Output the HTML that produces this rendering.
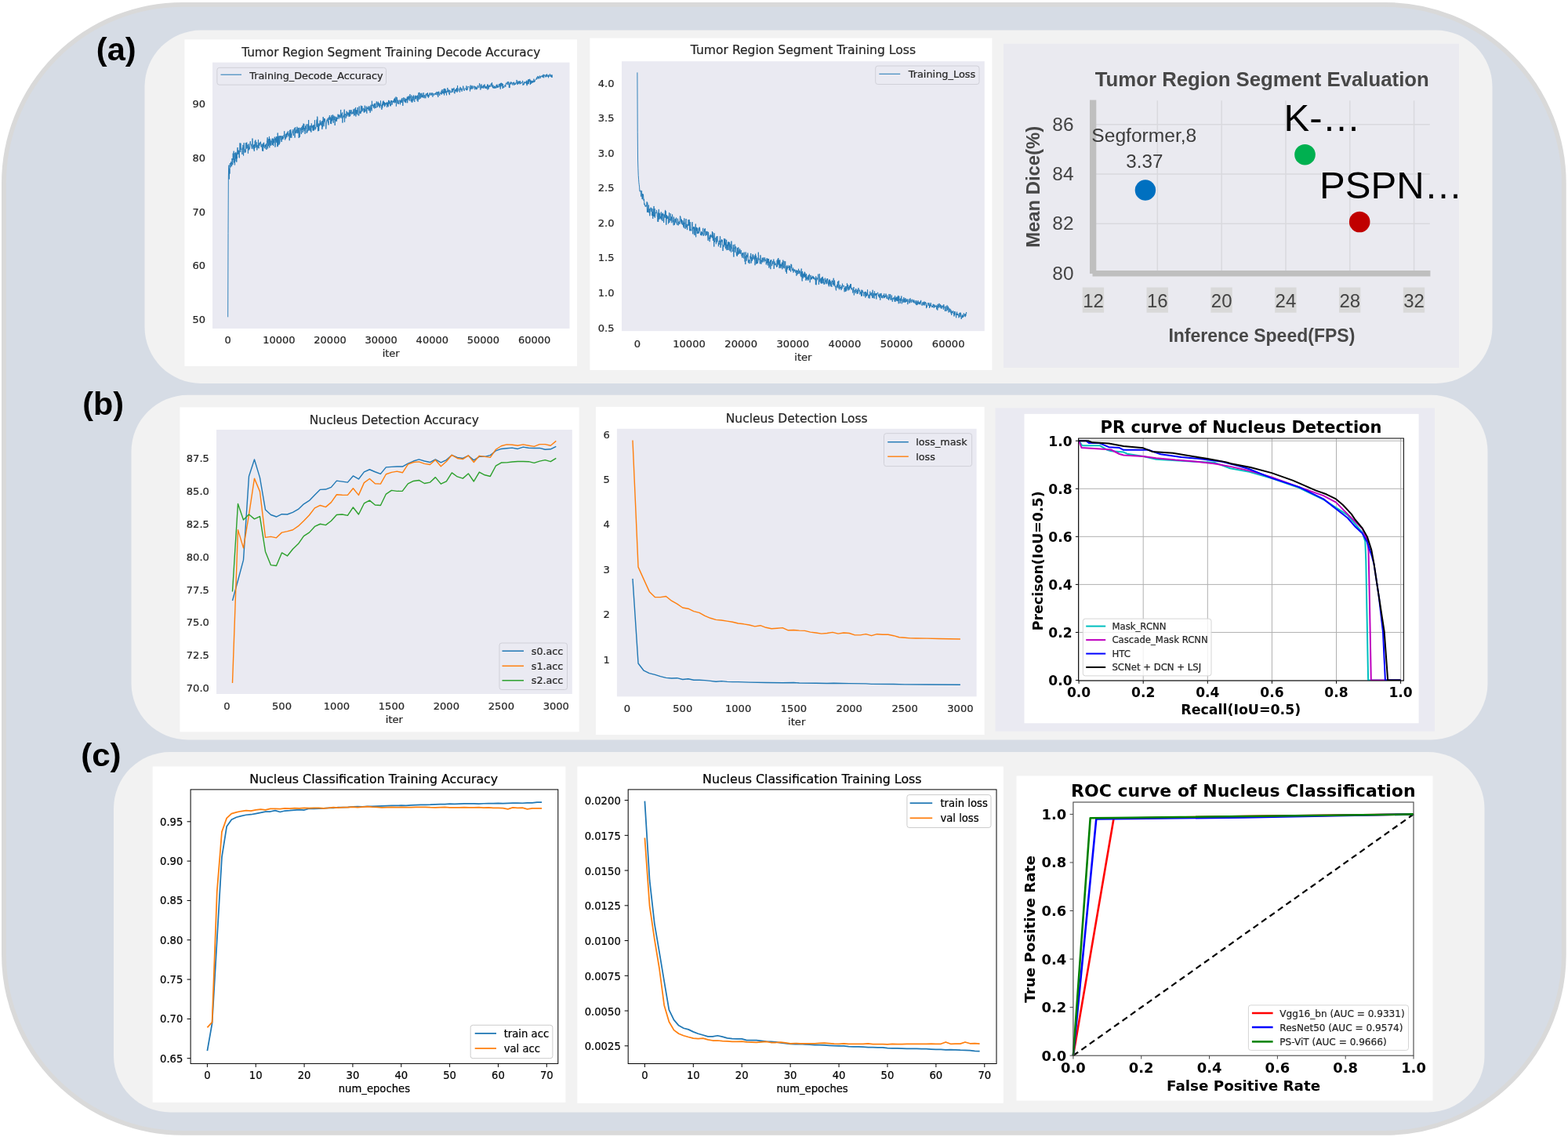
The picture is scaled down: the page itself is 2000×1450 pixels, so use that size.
<!DOCTYPE html>
<html><head><meta charset="utf-8"><title>Training and evaluation figure</title>
<style>html,body{margin:0;padding:0;background:#fff;}body{width:2000px;height:1450px;overflow:hidden;}svg{display:block;}</style>
</head><body>
<svg width="2000" height="1450" viewBox="0 0 2000 1450">
<rect x="0" y="0" width="2000" height="1450" fill="#ffffff" />
<rect x="4.9" y="5.8" width="1989.9" height="1439.1" fill="#d6dce5" rx="228" stroke="#d9d9d9" stroke-width="5.8" />
<rect x="184.5" y="38.5" width="1719" height="450.5" fill="#f2f2f2" rx="72" />
<rect x="167.5" y="503.8" width="1730" height="439.7" fill="#f2f2f2" rx="72" />
<rect x="145" y="959" width="1748.5" height="459.4" fill="#f2f2f2" rx="72" />
<text x="122.8" y="76.8" font-family="'Liberation Sans', Arial, sans-serif" font-size="40" fill="#000" font-weight="bold" textLength="50.9" lengthAdjust="spacingAndGlyphs" >(a)</text>
<text x="105.3" y="529" font-family="'Liberation Sans', Arial, sans-serif" font-size="40" fill="#000" font-weight="bold" textLength="52.8" lengthAdjust="spacingAndGlyphs" >(b)</text>
<text x="103.2" y="976.6" font-family="'Liberation Sans', Arial, sans-serif" font-size="40" fill="#000" font-weight="bold" textLength="51.4" lengthAdjust="spacingAndGlyphs" >(c)</text>
<rect x="235.5" y="50.3" width="500.5" height="416.7" fill="#ffffff" />
<rect x="271" y="79.6" width="455.5" height="339.4" fill="#eaeaf2" />
<text x="290.7" y="438" font-family="'DejaVu Sans', 'Liberation Sans', sans-serif" font-size="13" fill="#262626" stroke="#262626" stroke-width="0.22" text-anchor="middle" >0</text>
<text x="355.85" y="438" font-family="'DejaVu Sans', 'Liberation Sans', sans-serif" font-size="13" fill="#262626" stroke="#262626" stroke-width="0.22" text-anchor="middle" >10000</text>
<text x="421" y="438" font-family="'DejaVu Sans', 'Liberation Sans', sans-serif" font-size="13" fill="#262626" stroke="#262626" stroke-width="0.22" text-anchor="middle" >20000</text>
<text x="486.15" y="438" font-family="'DejaVu Sans', 'Liberation Sans', sans-serif" font-size="13" fill="#262626" stroke="#262626" stroke-width="0.22" text-anchor="middle" >30000</text>
<text x="551.3" y="438" font-family="'DejaVu Sans', 'Liberation Sans', sans-serif" font-size="13" fill="#262626" stroke="#262626" stroke-width="0.22" text-anchor="middle" >40000</text>
<text x="616.45" y="438" font-family="'DejaVu Sans', 'Liberation Sans', sans-serif" font-size="13" fill="#262626" stroke="#262626" stroke-width="0.22" text-anchor="middle" >50000</text>
<text x="681.6" y="438" font-family="'DejaVu Sans', 'Liberation Sans', sans-serif" font-size="13" fill="#262626" stroke="#262626" stroke-width="0.22" text-anchor="middle" >60000</text>
<text x="262" y="412.4" font-family="'DejaVu Sans', 'Liberation Sans', sans-serif" font-size="13" fill="#262626" stroke="#262626" stroke-width="0.22" text-anchor="end" >50</text>
<text x="262" y="343.45" font-family="'DejaVu Sans', 'Liberation Sans', sans-serif" font-size="13" fill="#262626" stroke="#262626" stroke-width="0.22" text-anchor="end" >60</text>
<text x="262" y="274.5" font-family="'DejaVu Sans', 'Liberation Sans', sans-serif" font-size="13" fill="#262626" stroke="#262626" stroke-width="0.22" text-anchor="end" >70</text>
<text x="262" y="205.55" font-family="'DejaVu Sans', 'Liberation Sans', sans-serif" font-size="13" fill="#262626" stroke="#262626" stroke-width="0.22" text-anchor="end" >80</text>
<text x="262" y="136.6" font-family="'DejaVu Sans', 'Liberation Sans', sans-serif" font-size="13" fill="#262626" stroke="#262626" stroke-width="0.22" text-anchor="end" >90</text>
<text x="498.7" y="71.5" font-family="'DejaVu Sans', 'Liberation Sans', sans-serif" font-size="15.3" fill="#262626" stroke="#262626" stroke-width="0.22" text-anchor="middle" >Tumor Region Segment Training Decode Accuracy</text>
<text x="498.7" y="455" font-family="'DejaVu Sans', 'Liberation Sans', sans-serif" font-size="13" fill="#262626" stroke="#262626" stroke-width="0.22" text-anchor="middle" >iter</text>
<polyline points="290.7,404.35 291.03,297.48 291.35,225.08 291.68,212.67 292,210.6 292.33,228.52 292.65,214.74 292.98,221.59 293.31,208.15 293.63,209.01 293.96,213.49 294.28,210.44 294.61,206.39 294.93,208.81 295.26,207.72 295.59,212.13 295.91,202.11 296.24,203.53 296.56,202.47 296.89,210.15 297.21,195.53 297.54,201.85 297.87,203.88 298.19,192.67 298.52,201.58 298.84,207.49 299.17,202.42 299.5,210.47 299.82,195.12 300.15,201.3 300.47,202.38 300.8,193.85 301.12,205.67 301.45,195.49 301.78,206.75 302.1,200.08 302.43,202.12 302.75,189.78 303.08,188.03 303.4,197.04 303.73,191.4 304.06,195.59 304.38,191.85 304.71,197.38 305.03,201.28 305.36,201.32 305.68,191.13 306.01,182.39 306.34,190.86 306.66,194.04 306.99,182.73 307.31,190.11 307.64,190.6 307.96,189.8 308.29,191.4 308.62,192.08 308.94,197 309.27,188.2 309.59,190.75 309.92,184.85 310.25,191.73 310.57,198.5 310.9,190.28 311.22,182.1 311.55,191.31 311.87,193.46 312.2,194.7 312.53,193.93 312.85,190.45 313.18,194.27 313.5,182.15 313.83,190.01 314.15,188.13 314.48,182.05 314.81,181.64 315.13,189.21 315.46,186.65 315.78,184.72 316.11,188.75 316.43,195.74 316.76,184.71 317.09,183.52 317.41,185.54 317.74,191.42 318.06,188.04 318.39,189.77 318.71,188.42 319.04,181.23 319.37,180.14 319.69,183.96 320.02,184.46 320.34,183.84 320.67,186.89 320.99,187.13 321.32,189.77 321.65,186.96 321.97,176.54 322.3,182.74 322.62,188.13 322.95,188.67 323.27,190.39 323.6,184.79 323.93,184.68 324.25,192.85 324.58,184.17 324.9,188.85 325.23,179.89 325.56,185.53 325.88,178.52 326.21,188.19 326.53,187.39 326.86,184.73 327.18,181.32 327.51,183.46 327.84,191.43 328.16,185.09 328.49,185.76 328.81,187.73 329.14,188.66 329.46,177.94 329.79,187.35 330.12,189.29 330.44,182.63 330.77,184.8 331.09,185.63 331.42,181.76 331.74,182.97 332.07,183.45 332.4,180.71 332.72,183.64 333.05,187.53 333.37,186.32 333.7,186.94 334.02,183.64 334.35,189.23 334.68,192.47 335,183.93 335.33,190.12 335.65,192.74 335.98,182.44 336.31,187.12 336.63,181.74 336.96,186.16 337.28,188.67 337.61,189.12 337.93,185.85 338.26,184.71 338.59,187.03 338.91,184.58 339.24,189.98 339.56,183.12 339.89,190.93 340.21,183.87 340.54,179.88 340.87,178.06 341.19,175.25 341.52,189.39 341.84,179.21 342.17,177.17 342.49,178.05 342.82,186.25 343.15,180.32 343.47,173.94 343.8,188.4 344.12,179.74 344.45,176.89 344.77,184.62 345.1,178.98 345.43,186.03 345.75,184.81 346.08,184.73 346.4,180.27 346.73,181.39 347.05,176.78 347.38,184.85 347.71,181.26 348.03,176.45 348.36,178.07 348.68,186.09 349.01,177.42 349.33,182.24 349.66,178.43 349.99,178.69 350.31,174.65 350.64,179.28 350.96,187.62 351.29,185.44 351.62,176.3 351.94,180.4 352.27,174.28 352.59,177.84 352.92,182.07 353.24,174.1 353.57,182.03 353.9,187.2 354.22,169.5 354.55,186.3 354.87,175.3 355.2,173.88 355.52,177.1 355.85,184.75 356.18,173.13 356.5,183.43 356.83,182.87 357.15,178.55 357.48,173.53 357.8,175.46 358.13,173.16 358.46,178.33 358.78,177.04 359.11,180.98 359.43,177.37 359.76,173.38 360.08,177.01 360.41,173.59 360.74,177.88 361.06,177.81 361.39,175.01 361.71,175.85 362.04,172.4 362.37,174 362.69,167.27 363.02,175.35 363.34,175.22 363.67,178.47 363.99,173.84 364.32,170.91 364.65,176.72 364.97,173.66 365.3,170.28 365.62,173.66 365.95,175.13 366.27,168.74 366.6,172.23 366.93,170.82 367.25,167.43 367.58,167.38 367.9,173.44 368.23,174.02 368.55,170.48 368.88,172.06 369.21,179.24 369.53,165.88 369.86,170.94 370.18,167.8 370.51,175.56 370.83,165.19 371.16,172.81 371.49,170.65 371.81,175.85 372.14,170.57 372.46,170.67 372.79,170.32 373.11,167.58 373.44,168.98 373.77,165.1 374.09,170.95 374.42,173.01 374.74,168.88 375.07,166.11 375.39,163.47 375.72,165.13 376.05,175.63 376.37,166.71 376.7,162.16 377.02,167.79 377.35,170.06 377.68,166.57 378,169.79 378.33,165 378.65,167.56 378.98,161.71 379.3,165.25 379.63,170.14 379.96,164.61 380.28,163.15 380.61,169.18 380.93,168.49 381.26,176.04 381.58,162.86 381.91,168.82 382.24,174.95 382.56,173.4 382.89,167.01 383.21,162.91 383.54,166.25 383.86,163.87 384.19,170.17 384.52,171.06 384.84,161.96 385.17,163.47 385.49,165.5 385.82,160.12 386.14,169.06 386.47,166.83 386.8,160.92 387.12,157.57 387.45,164.86 387.77,158.05 388.1,167.16 388.43,163.32 388.75,165.27 389.08,170.87 389.4,163.37 389.73,160.58 390.05,164.84 390.38,164.45 390.71,158.5 391.03,169 391.36,169.91 391.68,166.45 392.01,168.54 392.33,158.3 392.66,162.36 392.99,166.96 393.31,165.88 393.64,152.99 393.96,165.7 394.29,166.22 394.61,161.9 394.94,160.49 395.27,162 395.59,166.35 395.92,167.2 396.24,160.09 396.57,162.53 396.89,168.68 397.22,157.4 397.55,158.82 397.87,162.7 398.2,162.64 398.52,160.55 398.85,164.04 399.17,166.5 399.5,159.77 399.83,166.57 400.15,159.22 400.48,166.29 400.8,160.86 401.13,160.86 401.45,153.18 401.78,164.23 402.11,165.46 402.43,162.3 402.76,164.03 403.08,161.79 403.41,157.69 403.74,156.17 404.06,152.56 404.39,161.79 404.71,148.61 405.04,150.89 405.36,159.28 405.69,167.28 406.02,158.52 406.34,157.8 406.67,166.91 406.99,157.55 407.32,158.49 407.64,160.65 407.97,155.04 408.3,153.45 408.62,159.11 408.95,156.22 409.27,159.52 409.6,159.91 409.92,156.43 410.25,154.59 410.58,158.68 410.9,164.93 411.23,153.99 411.55,162.29 411.88,155.54 412.2,149.03 412.53,155.83 412.86,160.23 413.18,161.15 413.51,150.9 413.83,155.35 414.16,153.09 414.49,151.48 414.81,155.1 415.14,155.98 415.46,158.3 415.79,164.51 416.11,160.24 416.44,154.57 416.77,154.86 417.09,152.52 417.42,154.43 417.74,153.21 418.07,150.7 418.39,156.95 418.72,154.55 419.05,159.45 419.37,149.51 419.7,152.94 420.02,151.11 420.35,146.99 420.67,148.63 421,152.83 421.33,149.5 421.65,157.78 421.98,150.6 422.3,151.59 422.63,158.1 422.95,146.83 423.28,154.41 423.61,149.06 423.93,153.09 424.26,147.65 424.58,146.34 424.91,154.26 425.23,156.76 425.56,151.39 425.89,147.6 426.21,152.04 426.54,152.83 426.86,148.59 427.19,159.98 427.51,152.65 427.84,155.2 428.17,148.83 428.49,152.56 428.82,153.86 429.14,150.93 429.47,154.96 429.8,149.47 430.12,151.84 430.45,150.61 430.77,151.76 431.1,145.65 431.42,149.31 431.75,146.88 432.08,146.95 432.4,151.57 432.73,146.42 433.05,147.13 433.38,147.16 433.7,149.66 434.03,149.66 434.36,145.13 434.68,139.94 435.01,150.82 435.33,145.75 435.66,148.93 435.98,144.64 436.31,145.8 436.64,143.45 436.96,156.61 437.29,149.26 437.61,150.56 437.94,147.28 438.26,149.4 438.59,148.99 438.92,144.12 439.24,139.63 439.57,155.73 439.89,147.39 440.22,145.06 440.55,146.06 440.87,147.21 441.2,150.71 441.52,149.14 441.85,143.08 442.17,141.73 442.5,145.12 442.83,148.34 443.15,144.92 443.48,146.01 443.8,143.12 444.13,144.54 444.45,147.06 444.78,144.08 445.11,148.83 445.43,141.66 445.76,140.28 446.08,148.51 446.41,142.77 446.73,147.64 447.06,140.28 447.39,140.77 447.71,144.65 448.04,140.25 448.36,145.15 448.69,145.79 449.01,145.43 449.34,143.83 449.67,144.36 449.99,142.6 450.32,145.17 450.64,140.29 450.97,139.31 451.29,144.49 451.62,147.64 451.95,140.09 452.27,138.57 452.6,142.99 452.92,146.79 453.25,141.34 453.58,136.91 453.9,148.55 454.23,140.35 454.55,142.99 454.88,144.76 455.2,140.03 455.53,146.1 455.86,140.55 456.18,136.99 456.51,140.79 456.83,144.3 457.16,147.29 457.48,145.5 457.81,147.31 458.14,135.53 458.46,141.72 458.79,144.34 459.11,145.1 459.44,144.23 459.76,141.67 460.09,144.78 460.42,134.7 460.74,142.79 461.07,142.83 461.39,139.08 461.72,135.15 462.04,135.5 462.37,141.5 462.7,138.93 463.02,139.21 463.35,137.85 463.67,138.69 464,142.61 464.32,143.58 464.65,138.72 464.98,143.16 465.3,134.61 465.63,138.92 465.95,142.38 466.28,139.96 466.61,140.49 466.93,139.17 467.26,135.53 467.58,143.34 467.91,144.64 468.23,137.3 468.56,138.91 468.89,137.71 469.21,136.71 469.54,138.68 469.86,135.38 470.19,140.84 470.51,137.63 470.84,140.47 471.17,141.36 471.49,135.59 471.82,135.66 472.14,143.75 472.47,141 472.79,136.33 473.12,133.72 473.45,139.27 473.77,137.62 474.1,141.51 474.42,128.77 474.75,135.25 475.07,133.82 475.4,134.51 475.73,133.54 476.05,134.51 476.38,137.46 476.7,133.92 477.03,135.96 477.35,131.99 477.68,138.4 478.01,137.7 478.33,133.79 478.66,131.74 478.98,135.27 479.31,137.91 479.63,135.95 479.96,137.07 480.29,129.4 480.61,132.48 480.94,131.25 481.26,134.21 481.59,136.83 481.92,131.31 482.24,129.72 482.57,133.01 482.89,134.83 483.22,131.31 483.54,135.8 483.87,132.18 484.2,136.74 484.52,137.48 484.85,132.63 485.17,133.28 485.5,128.35 485.82,135.08 486.15,134.08 486.48,137.62 486.8,139.81 487.13,139.47 487.45,132.48 487.78,137.48 488.1,130.31 488.43,129.35 488.76,134.54 489.08,128.51 489.41,132.84 489.73,130.03 490.06,134.11 490.38,130.43 490.71,136.18 491.04,131.34 491.36,134.58 491.69,133.51 492.01,131.13 492.34,132.47 492.67,133.16 492.99,130.67 493.32,130.38 493.64,136.94 493.97,131 494.29,130.56 494.62,134.74 494.95,131.21 495.27,136.24 495.6,127.83 495.92,132.76 496.25,132.17 496.57,128.24 496.9,132.15 497.23,129.82 497.55,134.63 497.88,133.09 498.2,135.43 498.53,131.8 498.85,128.01 499.18,130.3 499.51,128.24 499.83,133.79 500.16,133.25 500.48,131.91 500.81,128.74 501.13,129.27 501.46,130.26 501.79,128.28 502.11,130.44 502.44,129.95 502.76,125.96 503.09,131.39 503.41,129.03 503.74,124.76 504.07,129.05 504.39,127.19 504.72,130.95 505.04,123.45 505.37,135.6 505.7,132.3 506.02,132.01 506.35,124.23 506.67,127.83 507,129.55 507.32,132.43 507.65,127.63 507.98,128.3 508.3,130.56 508.63,132.78 508.95,131.61 509.28,127.79 509.6,127.46 509.93,128.08 510.26,128.66 510.58,133.21 510.91,127.98 511.23,130.99 511.56,127.89 511.88,126.63 512.21,129.8 512.54,130.73 512.86,124.98 513.19,126.73 513.51,129.46 513.84,134.92 514.16,127.69 514.49,125.74 514.82,124.3 515.14,129.28 515.47,129.13 515.79,128.51 516.12,124.89 516.44,130.43 516.77,127.42 517.1,129.62 517.42,126.25 517.75,131.24 518.07,125.84 518.4,128.2 518.73,127.39 519.05,125.27 519.38,123.51 519.7,131.26 520.03,123.79 520.35,124.96 520.68,127.24 521.01,122.54 521.33,125.81 521.66,122.74 521.98,127.82 522.31,128.49 522.63,122.74 522.96,120.12 523.29,124.2 523.61,123.44 523.94,127.06 524.26,129.28 524.59,126.24 524.91,121.52 525.24,130.49 525.57,126.75 525.89,130.48 526.22,124.98 526.54,122.86 526.87,128.45 527.19,126.15 527.52,121.45 527.85,125.15 528.17,128.13 528.5,128.26 528.82,130.04 529.15,122.58 529.47,126.53 529.8,121.71 530.13,122.12 530.45,126.07 530.78,125.65 531.1,122.15 531.43,123.73 531.75,123.35 532.08,128.29 532.41,121.56 532.73,126.12 533.06,129.68 533.38,125.29 533.71,122.52 534.04,118.1 534.36,124.44 534.69,126.84 535.01,117.84 535.34,122.84 535.66,123.86 535.99,125.88 536.32,125.62 536.64,119.17 536.97,123.59 537.29,124.2 537.62,124.06 537.94,118.68 538.27,124.11 538.6,120.94 538.92,121.79 539.25,121.78 539.57,124.55 539.9,120.58 540.22,118.11 540.55,122.24 540.88,124.35 541.2,125.22 541.53,121.41 541.85,122.5 542.18,122.01 542.5,121.64 542.83,125.29 543.16,119.58 543.48,120.87 543.81,121.57 544.13,120.74 544.46,118.95 544.79,121.07 545.11,123.25 545.44,118.2 545.76,122.11 546.09,122.77 546.41,124.77 546.74,120.85 547.07,123.39 547.39,122.03 547.72,119.6 548.04,120.56 548.37,118.1 548.69,119.79 549.02,121.46 549.35,121.22 549.67,121.6 550,118.74 550.32,120.2 550.65,121.19 550.97,118.1 551.3,119.85 551.63,121.15 551.95,123.62 552.28,118.86 552.6,119.29 552.93,119.68 553.25,120.79 553.58,121.7 553.91,120.18 554.23,119.03 554.56,119.83 554.88,119.82 555.21,120.54 555.53,118.55 555.86,118.75 556.19,121.05 556.51,117.38 556.84,117.25 557.16,117.14 557.49,119.34 557.82,119.43 558.14,121.67 558.47,117.06 558.79,123.88 559.12,119.68 559.44,119.5 559.77,116.61 560.1,118.58 560.42,120.81 560.75,121.85 561.07,120.14 561.4,118.11 561.72,118.17 562.05,118.71 562.38,119.8 562.7,118.63 563.03,115.73 563.35,120.61 563.68,117.89 564,114.11 564.33,116.55 564.66,118.87 564.98,116.19 565.31,119.45 565.63,117.62 565.96,113.94 566.28,113.09 566.61,121.46 566.94,115.78 567.26,112.82 567.59,118.59 567.91,116.66 568.24,113.71 568.56,118.31 568.89,116.06 569.22,117.2 569.54,121.49 569.87,116.16 570.19,117.34 570.52,114.71 570.85,111.96 571.17,115.18 571.5,117.56 571.82,115.62 572.15,116.14 572.47,114.2 572.8,119.83 573.13,119.14 573.45,121.12 573.78,114.96 574.1,116.35 574.43,117.72 574.75,117.87 575.08,117.47 575.41,118.23 575.73,116.79 576.06,117.13 576.38,112.77 576.71,115.16 577.03,117.72 577.36,117.13 577.69,113.01 578.01,114.66 578.34,114.97 578.66,113.95 578.99,111.93 579.31,118.26 579.64,117.14 579.97,119.35 580.29,114.22 580.62,116.15 580.94,116.76 581.27,116.91 581.59,113.57 581.92,115.41 582.25,116.24 582.57,112.15 582.9,117.3 583.22,117.74 583.55,108.99 583.88,115.61 584.2,115.96 584.53,116.32 584.85,114.94 585.18,112.82 585.5,112.84 585.83,113.26 586.16,115.05 586.48,117.71 586.81,113.69 587.13,110.88 587.46,111.84 587.78,114.55 588.11,112.33 588.44,114.93 588.76,114.15 589.09,116.74 589.41,114.65 589.74,113.59 590.06,114.24 590.39,112.11 590.72,109.6 591.04,110.81 591.37,114.37 591.69,115.27 592.02,115.06 592.34,115.73 592.67,113.45 593,112.56 593.32,113.04 593.65,112.98 593.97,113.01 594.3,113.61 594.62,114.91 594.95,109.45 595.28,110.9 595.6,115.15 595.93,115.1 596.25,114.35 596.58,112.96 596.9,110.23 597.23,110.73 597.56,110.57 597.88,110.49 598.21,110.41 598.53,111.17 598.86,111.75 599.19,112.95 599.51,116.45 599.84,112.89 600.16,108.65 600.49,113.7 600.81,113.84 601.14,110.24 601.47,112.23 601.79,113.4 602.12,108.95 602.44,110.93 602.77,110.6 603.09,113.41 603.42,111.08 603.75,111.3 604.07,110.39 604.4,109.55 604.72,109.56 605.05,111.58 605.37,110.42 605.7,114.31 606.03,110.44 606.35,110.31 606.68,112.56 607,113.35 607.33,111.77 607.65,114.2 607.98,110.84 608.31,110.9 608.63,113.5 608.96,111.34 609.28,109.13 609.61,109.1 609.93,109.17 610.26,111.61 610.59,111.99 610.91,112.07 611.24,109.97 611.56,106.22 611.89,108.2 612.22,107.8 612.54,108.28 612.87,114.51 613.19,111.5 613.52,111.97 613.84,108.41 614.17,107.46 614.5,112.38 614.82,110.88 615.15,109.77 615.47,111.94 615.8,112.21 616.12,112.29 616.45,109 616.78,112.73 617.1,108.43 617.43,110.6 617.75,109.19 618.08,107.51 618.4,112.1 618.73,112.38 619.06,109.77 619.38,112.78 619.71,112.13 620.03,110.83 620.36,110.24 620.68,113.12 621.01,111.31 621.34,109.29 621.66,107.7 621.99,114.5 622.31,107.74 622.64,108.59 622.97,112.61 623.29,113.38 623.62,109.48 623.94,111.17 624.27,110.01 624.59,108.51 624.92,111 625.25,109.89 625.57,109.23 625.9,108.36 626.22,106.56 626.55,106.67 626.87,109.61 627.2,110.56 627.53,105.24 627.85,108.73 628.18,109.14 628.5,112.21 628.83,108.39 629.15,111.51 629.48,110.84 629.81,112.58 630.13,110.91 630.46,109.72 630.78,112.84 631.11,111.6 631.43,109.93 631.76,112.28 632.09,112.24 632.41,111.35 632.74,112.45 633.06,108.36 633.39,111.52 633.71,107.95 634.04,107.6 634.37,111.78 634.69,109.27 635.02,110.25 635.34,111.51 635.67,109.87 636,109.64 636.32,107.7 636.65,107.03 636.97,111.2 637.3,109.77 637.62,107.87 637.95,106.54 638.28,113.65 638.6,106.25 638.93,109.06 639.25,105.66 639.58,109.47 639.9,110.22 640.23,108.45 640.56,106.19 640.88,108.38 641.21,113.03 641.53,107 641.86,111.46 642.18,110.17 642.51,110.48 642.84,111.75 643.16,110.56 643.49,109.99 643.81,109.21 644.14,108.07 644.46,108.57 644.79,110.76 645.12,108.18 645.44,105.88 645.77,105.88 646.09,107.42 646.42,106.43 646.74,105.85 647.07,104.89 647.4,104.2 647.72,108.06 648.05,107.92 648.37,104.5 648.7,104.28 649.03,104.28 649.35,111.72 649.68,107.58 650,112.1 650.33,105.66 650.65,106.91 650.98,106.87 651.31,107.18 651.63,104.39 651.96,107.38 652.28,104.81 652.61,105.68 652.93,106 653.26,105.76 653.59,106.38 653.91,108.59 654.24,105.14 654.56,105.12 654.89,106.7 655.21,105.03 655.54,104.69 655.87,108.72 656.19,106.56 656.52,107.09 656.84,107.91 657.17,105.61 657.49,107.73 657.82,106.94 658.15,105.66 658.47,105.44 658.8,105.46 659.12,101.93 659.45,106.91 659.77,105.5 660.1,108.12 660.43,105.02 660.75,103.77 661.08,103.63 661.4,106.95 661.73,106.27 662.06,103.46 662.38,105.87 662.71,103.95 663.03,107.38 663.36,103.14 663.68,103.75 664.01,104.72 664.34,106.94 664.66,105.77 664.99,105.19 665.31,104.96 665.64,105.58 665.96,105.75 666.29,104.99 666.62,102.85 666.94,108.78 667.27,107.63 667.59,107.9 667.92,106.37 668.24,108.17 668.57,104.15 668.9,104.91 669.22,105.49 669.55,106.19 669.87,104.71 670.2,104.65 670.52,104.35 670.85,106.14 671.18,103.75 671.5,107.33 671.83,102.67 672.15,109.19 672.48,105.74 672.8,106.74 673.13,103.34 673.46,107.15 673.78,101.54 674.11,107.17 674.43,101.14 674.76,103.76 675.09,104.43 675.41,103.72 675.74,100.77 676.06,102.89 676.39,108.04 676.71,102.31 677.04,103.86 677.37,106.87 677.69,102.91 678.02,106.11 678.34,103.78 678.67,103.65 678.99,105.05 679.32,102.89 679.65,105.56 679.97,103.55 680.3,104.7 680.62,104.07 680.95,100.63 681.27,103.24 681.6,104.86 681.93,103 682.25,103.74 682.58,102.16 682.9,101.63 683.23,101.45 683.55,101.15 683.88,101.83 684.21,99.96 684.53,98.69 684.86,101.03 685.18,99.84 685.51,99.35 685.83,97.17 686.16,97.14 686.49,99.66 686.81,98.1 687.14,100.5 687.46,99.64 687.79,98.1 688.12,97.12 688.44,96.59 688.77,98.5 689.09,100.06 689.42,97.35 689.74,98.19 690.07,97.25 690.4,97.62 690.72,96.75 691.05,96.81 691.37,96.49 691.7,98.43 692.02,96.21 692.35,98.43 692.68,97.51 693,94.83 693.33,97.04 693.65,99.28 693.98,95.3 694.3,96 694.63,95.76 694.96,97.13 695.28,96.88 695.61,97.69 695.93,98.34 696.26,95.05 696.58,97.79 696.91,97.92 697.24,97.84 697.56,94.47 697.89,95.86 698.21,97.63 698.54,97.13 698.86,96.3 699.19,95.74 699.52,99.27 699.84,95.65 700.17,97.22 700.49,97.85 700.82,97.39 701.14,95.69 701.47,94.3 701.8,96.54 702.12,95.93 702.45,97.82 702.77,95.96 703.1,95.47 703.43,98.65 703.75,97.27 704.08,95.43 704.4,98.92" fill="none" stroke="#1f77b4" stroke-width="0.9" stroke-linejoin="round" />
<rect x="276.9" y="86.3" width="215.6" height="21.9" fill="#eaeaf2" rx="3" stroke="#d0d0d8" stroke-width="1" fill-opacity="1.0"/>
<line x1="281.5" y1="95.2" x2="308" y2="95.2" stroke="#1f77b4" stroke-width="1" />
<text x="318.3" y="100.7" font-family="'DejaVu Sans', 'Liberation Sans', sans-serif" font-size="12.8" fill="#262626" stroke="#262626" stroke-width="0.22" >Training_Decode_Accuracy</text>
<rect x="752.4" y="48.6" width="513" height="423.4" fill="#ffffff" />
<rect x="793" y="78.2" width="462.8" height="344" fill="#eaeaf2" />
<text x="812.9" y="442.8" font-family="'DejaVu Sans', 'Liberation Sans', sans-serif" font-size="13.1" fill="#262626" stroke="#262626" stroke-width="0.22" text-anchor="middle" >0</text>
<text x="879.03" y="442.8" font-family="'DejaVu Sans', 'Liberation Sans', sans-serif" font-size="13.1" fill="#262626" stroke="#262626" stroke-width="0.22" text-anchor="middle" >10000</text>
<text x="945.17" y="442.8" font-family="'DejaVu Sans', 'Liberation Sans', sans-serif" font-size="13.1" fill="#262626" stroke="#262626" stroke-width="0.22" text-anchor="middle" >20000</text>
<text x="1011.3" y="442.8" font-family="'DejaVu Sans', 'Liberation Sans', sans-serif" font-size="13.1" fill="#262626" stroke="#262626" stroke-width="0.22" text-anchor="middle" >30000</text>
<text x="1077.43" y="442.8" font-family="'DejaVu Sans', 'Liberation Sans', sans-serif" font-size="13.1" fill="#262626" stroke="#262626" stroke-width="0.22" text-anchor="middle" >40000</text>
<text x="1143.57" y="442.8" font-family="'DejaVu Sans', 'Liberation Sans', sans-serif" font-size="13.1" fill="#262626" stroke="#262626" stroke-width="0.22" text-anchor="middle" >50000</text>
<text x="1209.7" y="442.8" font-family="'DejaVu Sans', 'Liberation Sans', sans-serif" font-size="13.1" fill="#262626" stroke="#262626" stroke-width="0.22" text-anchor="middle" >60000</text>
<text x="783.6" y="422.5" font-family="'DejaVu Sans', 'Liberation Sans', sans-serif" font-size="13.1" fill="#262626" stroke="#262626" stroke-width="0.22" text-anchor="end" >0.5</text>
<text x="783.6" y="377.93" font-family="'DejaVu Sans', 'Liberation Sans', sans-serif" font-size="13.1" fill="#262626" stroke="#262626" stroke-width="0.22" text-anchor="end" >1.0</text>
<text x="783.6" y="333.36" font-family="'DejaVu Sans', 'Liberation Sans', sans-serif" font-size="13.1" fill="#262626" stroke="#262626" stroke-width="0.22" text-anchor="end" >1.5</text>
<text x="783.6" y="288.79" font-family="'DejaVu Sans', 'Liberation Sans', sans-serif" font-size="13.1" fill="#262626" stroke="#262626" stroke-width="0.22" text-anchor="end" >2.0</text>
<text x="783.6" y="244.21" font-family="'DejaVu Sans', 'Liberation Sans', sans-serif" font-size="13.1" fill="#262626" stroke="#262626" stroke-width="0.22" text-anchor="end" >2.5</text>
<text x="783.6" y="199.64" font-family="'DejaVu Sans', 'Liberation Sans', sans-serif" font-size="13.1" fill="#262626" stroke="#262626" stroke-width="0.22" text-anchor="end" >3.0</text>
<text x="783.6" y="155.07" font-family="'DejaVu Sans', 'Liberation Sans', sans-serif" font-size="13.1" fill="#262626" stroke="#262626" stroke-width="0.22" text-anchor="end" >3.5</text>
<text x="783.6" y="110.5" font-family="'DejaVu Sans', 'Liberation Sans', sans-serif" font-size="13.1" fill="#262626" stroke="#262626" stroke-width="0.22" text-anchor="end" >4.0</text>
<text x="1024.4" y="69.4" font-family="'DejaVu Sans', 'Liberation Sans', sans-serif" font-size="15.6" fill="#262626" stroke="#262626" stroke-width="0.22" text-anchor="middle" >Tumor Region Segment Training Loss</text>
<text x="1024.4" y="460" font-family="'DejaVu Sans', 'Liberation Sans', sans-serif" font-size="13.1" fill="#262626" stroke="#262626" stroke-width="0.22" text-anchor="middle" >iter</text>
<polyline points="812.9,92.43 813.23,168.24 813.56,204 813.89,214.82 814.22,223.47 814.55,228.16 814.88,232.86 815.21,235.21 815.55,238.16 815.88,243.25 816.21,244.14 816.54,244.43 816.87,242.68 817.2,243.81 817.53,250.09 817.86,250.78 818.19,245.64 818.52,243.31 818.85,250.21 819.18,253.91 819.51,247.11 819.84,254.23 820.17,250.48 820.51,247.67 820.84,252.62 821.17,255.95 821.5,253.88 821.83,260.85 822.16,259.64 822.49,262.26 822.82,261.47 823.15,263.31 823.48,262.36 823.81,263.62 824.14,261.93 824.47,262.43 824.8,261.8 825.13,257.28 825.47,270.76 825.8,258.54 826.13,265.74 826.46,270.54 826.79,266.23 827.12,265.46 827.45,261.53 827.78,271.35 828.11,266.08 828.44,266.92 828.77,275.28 829.1,273.47 829.43,265.96 829.76,265.94 830.09,264.6 830.43,267.44 830.76,268.44 831.09,270.04 831.42,265.64 831.75,275.09 832.08,272.28 832.41,270.09 832.74,278.88 833.07,266.27 833.4,275.68 833.73,272.64 834.06,262.95 834.39,276.24 834.72,275.05 835.05,265.97 835.39,277.73 835.72,275.01 836.05,270.97 836.38,271.37 836.71,270.9 837.04,272.01 837.37,267.86 837.7,269.44 838.03,271.42 838.36,277.17 838.69,277.43 839.02,282.81 839.35,271.55 839.68,282.69 840.01,270.97 840.35,266.87 840.68,279.74 841.01,278.21 841.34,277.4 841.67,271.77 842,279.29 842.33,276.18 842.66,277.99 842.99,276.9 843.32,270.26 843.65,280.22 843.98,275.79 844.31,275.01 844.64,272.55 844.97,281.92 845.31,271.63 845.64,274.69 845.97,272.88 846.3,276.48 846.63,284.04 846.96,279.81 847.29,273.52 847.62,277.02 847.95,277.5 848.28,269.58 848.61,267.89 848.94,277.74 849.27,269.27 849.6,286.45 849.93,286.79 850.27,274.2 850.6,279.21 850.93,275.66 851.26,276.03 851.59,278.76 851.92,275.51 852.25,277.91 852.58,285.31 852.91,277.81 853.24,278.06 853.57,271.01 853.9,283.95 854.23,279.08 854.56,281.1 854.89,279.93 855.23,272.27 855.56,277.91 855.89,281.66 856.22,279.08 856.55,276.53 856.88,284.25 857.21,281.19 857.54,273.48 857.87,276.54 858.2,280.54 858.53,282.5 858.86,281.2 859.19,287.33 859.52,276.67 859.85,279.36 860.19,280.34 860.52,286.63 860.85,284.21 861.18,279.01 861.51,280.22 861.84,283.57 862.17,279.35 862.5,277.58 862.83,284.63 863.16,284.11 863.49,285.66 863.82,286.99 864.15,278.69 864.48,280.03 864.81,280.86 865.15,287.45 865.48,287 865.81,282.9 866.14,284.48 866.47,282.29 866.8,285.91 867.13,280.2 867.46,275.39 867.79,276.58 868.12,276.4 868.45,283.1 868.78,279.55 869.11,285.21 869.44,279.76 869.77,285.42 870.11,285.99 870.44,286.75 870.77,281.1 871.1,283.01 871.43,283.49 871.76,289.26 872.09,283.88 872.42,290.74 872.75,278.38 873.08,285.34 873.41,284.05 873.74,285.43 874.07,291.83 874.4,291.02 874.73,285.4 875.07,279.02 875.4,290.22 875.73,288.58 876.06,285.87 876.39,292.95 876.72,293.09 877.05,287.82 877.38,286.46 877.71,288.12 878.04,280.14 878.37,287.55 878.7,285.52 879.03,280.46 879.36,280.22 879.69,294.39 880.03,289.44 880.36,283.11 880.69,294.08 881.02,292.35 881.35,294.13 881.68,294.6 882.01,293.83 882.34,288.47 882.67,284.05 883,283.15 883.33,289.77 883.66,298.35 883.99,290.45 884.32,291.84 884.65,289.12 884.99,291.35 885.32,298.59 885.65,289.45 885.98,300.12 886.31,294.5 886.64,290.47 886.97,290.51 887.3,285.56 887.63,302.34 887.96,291.15 888.29,289.87 888.62,294.35 888.95,290.48 889.28,298.01 889.61,290.8 889.95,291.5 890.28,298.09 890.61,296.96 890.94,295.15 891.27,297.31 891.6,290.36 891.93,294.21 892.26,289.62 892.59,290.41 892.92,295.28 893.25,296.55 893.58,299.9 893.91,299.51 894.24,299.69 894.57,295.07 894.91,300.39 895.24,296.5 895.57,296.17 895.9,299.21 896.23,298.06 896.56,291.38 896.89,290.83 897.22,300.99 897.55,298.68 897.88,299.57 898.21,299.32 898.54,291.9 898.87,295.59 899.2,293.35 899.53,291.34 899.87,300.74 900.2,299.83 900.53,299.03 900.86,295.07 901.19,299.88 901.52,296.95 901.85,294.93 902.18,295.1 902.51,298.23 902.84,303.52 903.17,306.85 903.5,295.87 903.83,298.78 904.16,304.73 904.49,303.08 904.83,302.99 905.16,308.23 905.49,300.38 905.82,304.84 906.15,302.94 906.48,298.8 906.81,302.41 907.14,299.91 907.47,300.56 907.8,302.33 908.13,302.4 908.46,295.04 908.79,303.61 909.12,296.31 909.45,306.98 909.79,300.33 910.12,302.79 910.45,306.66 910.78,314.54 911.11,297.35 911.44,308.86 911.77,308.21 912.1,303.85 912.43,304.29 912.76,303.55 913.09,305.93 913.42,311.24 913.75,301.67 914.08,309.15 914.41,304.68 914.75,303.42 915.08,301.09 915.41,307.04 915.74,307.58 916.07,307.47 916.4,314.29 916.73,309.97 917.06,311.18 917.39,311.96 917.72,306.72 918.05,308.87 918.38,301.22 918.71,301.84 919.04,315.86 919.37,307.81 919.71,312.6 920.04,306.4 920.37,308.21 920.7,305.23 921.03,307.95 921.36,306.28 921.69,310.8 922.02,320.03 922.35,314.79 922.68,313.62 923.01,312.31 923.34,314.63 923.67,303.99 924,311.54 924.33,305.73 924.67,312.59 925,304.64 925.33,316.47 925.66,309.31 925.99,317.36 926.32,310.31 926.65,305.83 926.98,319.14 927.31,316.21 927.64,311.84 927.97,313.78 928.3,318.77 928.63,308.67 928.96,313.35 929.29,308.48 929.63,312.63 929.96,318.79 930.29,316.24 930.62,308.86 930.95,320.31 931.28,316.78 931.61,312.66 931.94,311.19 932.27,312.16 932.6,321.7 932.93,307.47 933.26,316.8 933.59,316.29 933.92,316.56 934.25,317.69 934.59,320.88 934.92,318.49 935.25,312.02 935.58,323.09 935.91,327.63 936.24,315.83 936.57,316.84 936.9,315.47 937.23,311.64 937.56,321.75 937.89,318.32 938.22,317.21 938.55,314.48 938.88,315.51 939.21,323.26 939.55,325.62 939.88,321.37 940.21,326.98 940.54,316.22 940.87,322.48 941.2,322.53 941.53,324.89 941.86,315.39 942.19,320.56 942.52,323.59 942.85,319.68 943.18,322.69 943.51,320.17 943.84,317.46 944.17,324.03 944.51,321.12 944.84,321.46 945.17,319.04 945.5,321.41 945.83,323.87 946.16,326.78 946.49,323.23 946.82,328.8 947.15,322.21 947.48,324.8 947.81,323.05 948.14,327.52 948.47,328.84 948.8,329.49 949.13,321.67 949.47,327.14 949.8,327.4 950.13,333.73 950.46,326.95 950.79,337.08 951.12,321.5 951.45,327.92 951.78,326.96 952.11,332.76 952.44,331.52 952.77,324.91 953.1,328.19 953.43,325.77 953.76,322.54 954.09,325.01 954.43,335.13 954.76,331.63 955.09,332.3 955.42,331.49 955.75,336.14 956.08,336.1 956.41,331.08 956.74,330.59 957.07,326.33 957.4,329.69 957.73,322.98 958.06,335.68 958.39,334.07 958.72,327.78 959.05,329.89 959.39,332.74 959.72,326.03 960.05,324.88 960.38,324.11 960.71,330.78 961.04,329.35 961.37,328.53 961.7,329.27 962.03,325.65 962.36,331.54 962.69,328.31 963.02,338.28 963.35,327 963.68,323.71 964.01,330.16 964.35,326.18 964.68,336.56 965.01,331.57 965.34,336.25 965.67,329.25 966,328.56 966.33,335.83 966.66,333.92 966.99,333.01 967.32,321.69 967.65,331.22 967.98,330.57 968.31,329.75 968.64,330.07 968.97,332.17 969.31,336.37 969.64,333.99 969.97,325.37 970.3,330.63 970.63,333.07 970.96,336.83 971.29,332.05 971.62,331.81 971.95,334.45 972.28,328.76 972.61,334.37 972.94,332.88 973.27,329.2 973.6,331.58 973.93,328.32 974.27,333.44 974.6,334.27 974.93,331.01 975.26,332.04 975.59,328.52 975.92,331.49 976.25,333.18 976.58,331.5 976.91,330.82 977.24,337.46 977.57,333.93 977.9,334.72 978.23,329.16 978.56,335.44 978.89,329.83 979.23,338.46 979.56,334.1 979.89,330.08 980.22,335.02 980.55,329.94 980.88,341.63 981.21,334.22 981.54,333.81 981.87,334.94 982.2,340.05 982.53,332.22 982.86,343.19 983.19,331.37 983.52,333.84 983.85,331.4 984.19,335.98 984.52,339.15 984.85,337.09 985.18,336.98 985.51,333.23 985.84,336.59 986.17,334.06 986.5,333.89 986.83,330.61 987.16,342.92 987.49,337.32 987.82,333.49 988.15,333.56 988.48,338.11 988.81,337.13 989.15,336.6 989.48,335.87 989.81,338.42 990.14,338.78 990.47,340.55 990.8,338.01 991.13,331.82 991.46,340.19 991.79,333.55 992.12,330.23 992.45,336.49 992.78,329.01 993.11,337.96 993.44,331.72 993.77,337.88 994.11,342.1 994.44,336.75 994.77,331.48 995.1,340.29 995.43,336.67 995.76,341.96 996.09,341.7 996.42,337.15 996.75,339.51 997.08,337.03 997.41,334.69 997.74,343.35 998.07,341.77 998.4,339.35 998.73,331.6 999.07,340.89 999.4,341.56 999.73,338.5 1000.06,332.86 1000.39,342.27 1000.72,341.44 1001.05,340.37 1001.38,338.04 1001.71,333.27 1002.04,345.18 1002.37,346.73 1002.7,340.61 1003.03,339.44 1003.36,349.03 1003.69,343.62 1004.03,338.37 1004.36,343.57 1004.69,340.25 1005.02,341.43 1005.35,339.94 1005.68,340.81 1006.01,341.52 1006.34,338.31 1006.67,344.57 1007,342.37 1007.33,339.1 1007.66,344.94 1007.99,344.43 1008.32,345.84 1008.65,346.6 1008.99,336.75 1009.32,342.11 1009.65,337.52 1009.98,341.49 1010.31,343.82 1010.64,345.16 1010.97,343.46 1011.3,344.62 1011.63,341.57 1011.96,347.65 1012.29,344.32 1012.62,343.5 1012.95,345.95 1013.28,346.11 1013.61,343.66 1013.95,343.78 1014.28,346.13 1014.61,345.98 1014.94,347.93 1015.27,344.41 1015.6,346.79 1015.93,351.71 1016.26,347.73 1016.59,344.84 1016.92,346.09 1017.25,350.09 1017.58,344.93 1017.91,345.51 1018.24,345.66 1018.57,342.82 1018.91,349.05 1019.24,346.16 1019.57,349.11 1019.9,345.23 1020.23,344.82 1020.56,347.16 1020.89,346.49 1021.22,351.69 1021.55,347.2 1021.88,353.22 1022.21,342.55 1022.54,345.97 1022.87,354.78 1023.2,358.55 1023.53,346 1023.87,353.09 1024.2,348.76 1024.53,354.82 1024.86,350.59 1025.19,353.04 1025.52,349.22 1025.85,352.36 1026.18,346.7 1026.51,354.01 1026.84,347.68 1027.17,351.96 1027.5,350.4 1027.83,357.27 1028.16,357.92 1028.49,349.19 1028.83,356.55 1029.16,353.9 1029.49,353.99 1029.82,355.97 1030.15,352.64 1030.48,357.87 1030.81,357.32 1031.14,350.83 1031.47,356.41 1031.8,351.71 1032.13,352.11 1032.46,349.59 1032.79,353.07 1033.12,360.27 1033.45,356.65 1033.79,355.97 1034.12,350.94 1034.45,353.75 1034.78,356.41 1035.11,353.61 1035.44,356.13 1035.77,353.4 1036.1,354.69 1036.43,351.8 1036.76,354.26 1037.09,352.29 1037.42,355.46 1037.75,353.3 1038.08,356.02 1038.41,353.65 1038.75,355 1039.08,356.13 1039.41,357.1 1039.74,356.72 1040.07,354.5 1040.4,363 1040.73,352.3 1041.06,363.35 1041.39,356.79 1041.72,357.28 1042.05,354.1 1042.38,355.69 1042.71,356.6 1043.04,356.29 1043.37,353.75 1043.71,349.61 1044.04,355.6 1044.37,363 1044.7,358.13 1045.03,355.67 1045.36,349.2 1045.69,359.36 1046.02,358.24 1046.35,355.52 1046.68,356.29 1047.01,361.27 1047.34,354.57 1047.67,361.37 1048,358.31 1048.33,353.65 1048.67,361.56 1049,358.74 1049.33,352.84 1049.66,358.62 1049.99,361.01 1050.32,359.7 1050.65,355.58 1050.98,362.73 1051.31,360.04 1051.64,362.52 1051.97,361.7 1052.3,354.6 1052.63,358.69 1052.96,359.79 1053.29,357.33 1053.63,360.74 1053.96,362.28 1054.29,355.55 1054.62,356.46 1054.95,361.58 1055.28,357.2 1055.61,355.13 1055.94,358.05 1056.27,358.15 1056.6,363.3 1056.93,360.21 1057.26,365.34 1057.59,356.85 1057.92,360.68 1058.25,356.49 1058.59,362.64 1058.92,358.02 1059.25,365.2 1059.58,361.93 1059.91,359.32 1060.24,359.98 1060.57,361.28 1060.9,365.94 1061.23,357.57 1061.56,359.58 1061.89,358.33 1062.22,358.49 1062.55,362.88 1062.88,360.82 1063.21,354.72 1063.55,364.54 1063.88,361.13 1064.21,363.98 1064.54,357.57 1064.87,362.14 1065.2,365.68 1065.53,364.57 1065.86,366.95 1066.19,369.52 1066.52,370.45 1066.85,365.38 1067.18,366.63 1067.51,363.15 1067.84,366 1068.17,363.17 1068.51,358.97 1068.84,367.32 1069.17,367.53 1069.5,361.53 1069.83,357.86 1070.16,366.93 1070.49,369.31 1070.82,365.55 1071.15,365.98 1071.48,363 1071.81,368.03 1072.14,365.93 1072.47,366.18 1072.8,369.79 1073.13,369.88 1073.47,364.45 1073.8,364.29 1074.13,368.09 1074.46,361.71 1074.79,363.53 1075.12,364.91 1075.45,364.6 1075.78,365.4 1076.11,364.48 1076.44,364.18 1076.77,366.44 1077.1,372.29 1077.43,367.25 1077.76,369.16 1078.09,370.21 1078.43,365.46 1078.76,372 1079.09,365 1079.42,369.08 1079.75,370.76 1080.08,369.88 1080.41,361.29 1080.74,363.72 1081.07,368.56 1081.4,365 1081.73,363.16 1082.06,370.42 1082.39,368.93 1082.72,365.76 1083.05,367.25 1083.39,369.42 1083.72,364.12 1084.05,367.22 1084.38,366.55 1084.71,362.33 1085.04,367.54 1085.37,362.07 1085.7,368.21 1086.03,369.56 1086.36,368.87 1086.69,366.96 1087.02,367.63 1087.35,368.48 1087.68,373.56 1088.01,372.58 1088.35,370.47 1088.68,367.89 1089.01,366.06 1089.34,376.45 1089.67,370.51 1090,371.43 1090.33,370.59 1090.66,369.83 1090.99,372.76 1091.32,374.1 1091.65,367.96 1091.98,368.74 1092.31,371.95 1092.64,371.25 1092.97,372.86 1093.31,374.86 1093.64,369.47 1093.97,373.06 1094.3,374.35 1094.63,373.06 1094.96,367.21 1095.29,370.47 1095.62,371.11 1095.95,371.58 1096.28,369.63 1096.61,370.07 1096.94,375.54 1097.27,372.82 1097.6,373.99 1097.93,371.8 1098.27,372.62 1098.6,377.81 1098.93,369.61 1099.26,372.04 1099.59,377.38 1099.92,369.91 1100.25,372.67 1100.58,371.82 1100.91,373.05 1101.24,372.78 1101.57,374.59 1101.9,377.7 1102.23,375.03 1102.56,373.01 1102.89,373.45 1103.23,371.93 1103.56,373.94 1103.89,379.62 1104.22,371.93 1104.55,376.01 1104.88,377.47 1105.21,374.89 1105.54,377.67 1105.87,373.26 1106.2,376.66 1106.53,369.31 1106.86,375.05 1107.19,375.91 1107.52,376.23 1107.85,380.19 1108.19,376.93 1108.52,376.71 1108.85,375.67 1109.18,380.6 1109.51,374.84 1109.84,371.7 1110.17,376.17 1110.5,375.27 1110.83,374.1 1111.16,377.31 1111.49,376.44 1111.82,372.93 1112.15,374.95 1112.48,378.64 1112.81,380.12 1113.15,369.77 1113.48,374.54 1113.81,379.78 1114.14,375.39 1114.47,374.12 1114.8,375.61 1115.13,380.75 1115.46,371.42 1115.79,374.56 1116.12,376.65 1116.45,374.47 1116.78,376.84 1117.11,377.18 1117.44,374.13 1117.77,381.47 1118.11,373.98 1118.44,375.57 1118.77,374.71 1119.1,374.39 1119.43,372.82 1119.76,373.17 1120.09,374.64 1120.42,377.91 1120.75,375.25 1121.08,378.26 1121.41,379.52 1121.74,376.02 1122.07,376.33 1122.4,374.3 1122.73,382.73 1123.07,375.91 1123.4,375.79 1123.73,377.25 1124.06,373.88 1124.39,379.84 1124.72,376.87 1125.05,378.71 1125.38,377.88 1125.71,380.33 1126.04,378.32 1126.37,376.36 1126.7,377.8 1127.03,377.3 1127.36,380.13 1127.69,374.35 1128.03,380.09 1128.36,378.37 1128.69,377.03 1129.02,379 1129.35,376.74 1129.68,378.21 1130.01,374.54 1130.34,377.45 1130.67,377.9 1131,380.94 1131.33,377.87 1131.66,376.61 1131.99,378.12 1132.32,381.5 1132.65,380.63 1132.99,379.92 1133.32,379.37 1133.65,382.88 1133.98,374.97 1134.31,379.87 1134.64,379.42 1134.97,380.84 1135.3,379.93 1135.63,375.22 1135.96,382.28 1136.29,381.3 1136.62,382.62 1136.95,381.51 1137.28,376.53 1137.61,381.84 1137.95,381.48 1138.28,384.82 1138.61,381.38 1138.94,380.03 1139.27,381.83 1139.6,381.67 1139.93,378.85 1140.26,379.57 1140.59,381.16 1140.92,382.85 1141.25,384.65 1141.58,377.07 1141.91,384.88 1142.24,379.69 1142.57,381.77 1142.91,383.12 1143.24,379.31 1143.57,383.26 1143.9,378.55 1144.23,384.08 1144.56,380.51 1144.89,378.71 1145.22,384.12 1145.55,376.9 1145.88,379.92 1146.21,387.26 1146.54,378.78 1146.87,377.62 1147.2,382.83 1147.53,382.74 1147.87,381.46 1148.2,386.9 1148.53,382.11 1148.86,380.34 1149.19,383.9 1149.52,380.05 1149.85,377.53 1150.18,387.4 1150.51,387.09 1150.84,384.55 1151.17,381.45 1151.5,382.09 1151.83,385.19 1152.16,385.75 1152.49,384.86 1152.83,379.21 1153.16,385.47 1153.49,384.65 1153.82,381.11 1154.15,384.02 1154.48,385.76 1154.81,380.15 1155.14,382.76 1155.47,385.19 1155.8,384.53 1156.13,381.51 1156.46,384.57 1156.79,383.17 1157.12,381.75 1157.45,381.55 1157.79,388.18 1158.12,385.09 1158.45,384.78 1158.78,383.81 1159.11,382.31 1159.44,381.44 1159.77,385.24 1160.1,386.79 1160.43,383.84 1160.76,385.71 1161.09,380.39 1161.42,383.59 1161.75,384.34 1162.08,382.23 1162.41,386.07 1162.75,385.4 1163.08,385.06 1163.41,383.21 1163.74,381.78 1164.07,383 1164.4,383.12 1164.73,385.42 1165.06,384.1 1165.39,385.53 1165.72,382.42 1166.05,386.53 1166.38,385.32 1166.71,384.68 1167.04,383.51 1167.37,387.01 1167.71,385.95 1168.04,387.36 1168.37,388.61 1168.7,383.17 1169.03,384.67 1169.36,389.17 1169.69,388.05 1170.02,384.65 1170.35,387.35 1170.68,388.42 1171.01,383.3 1171.34,387.28 1171.67,387.09 1172,385.06 1172.33,388 1172.67,386.42 1173,386.18 1173.33,384.94 1173.66,388.33 1173.99,384.32 1174.32,386.05 1174.65,382.87 1174.98,386.46 1175.31,388.21 1175.64,388.29 1175.97,389.69 1176.3,387.25 1176.63,387.45 1176.96,385.39 1177.29,387.26 1177.63,389.39 1177.96,385.31 1178.29,388.62 1178.62,387.14 1178.95,384.57 1179.28,385.05 1179.61,389.56 1179.94,388.27 1180.27,385.12 1180.6,385.97 1180.93,387.02 1181.26,386.33 1181.59,393.13 1181.92,389.09 1182.25,391.68 1182.59,389.99 1182.92,389.5 1183.25,387.67 1183.58,386.19 1183.91,387.1 1184.24,388.28 1184.57,389.71 1184.9,386.18 1185.23,388.46 1185.56,392.97 1185.89,389.3 1186.22,388.12 1186.55,391.37 1186.88,388.84 1187.21,386.07 1187.55,389.99 1187.88,389.6 1188.21,389.63 1188.54,391.71 1188.87,390.68 1189.2,391.89 1189.53,390.39 1189.86,391.56 1190.19,387.77 1190.52,390.16 1190.85,388.12 1191.18,392.75 1191.51,390.11 1191.84,388.87 1192.17,388.66 1192.51,391.56 1192.84,390.49 1193.17,390.08 1193.5,391.1 1193.83,391.31 1194.16,389.33 1194.49,393.06 1194.82,394.46 1195.15,391.65 1195.48,390.03 1195.81,395.61 1196.14,387.83 1196.47,390.58 1196.8,389.59 1197.13,392.67 1197.47,391.01 1197.8,387.07 1198.13,387.03 1198.46,389.72 1198.79,391.69 1199.12,391.38 1199.45,388.37 1199.78,392.74 1200.11,393.24 1200.44,391.58 1200.77,389.39 1201.1,393.63 1201.43,390.63 1201.76,390.63 1202.09,391.17 1202.43,391.81 1202.76,389.55 1203.09,390.33 1203.42,394.68 1203.75,388.22 1204.08,390.69 1204.41,391.03 1204.74,392.48 1205.07,392.38 1205.4,397.02 1205.73,392.33 1206.06,390.63 1206.39,390.61 1206.72,393.37 1207.05,396.94 1207.39,394.39 1207.72,392.7 1208.05,389.39 1208.38,395.49 1208.71,392.1 1209.04,390.93 1209.37,390.89 1209.7,392.97 1210.03,398.5 1210.36,392.7 1210.69,394.28 1211.02,394.02 1211.35,397.7 1211.68,397.31 1212.01,393.77 1212.35,397.67 1212.68,397.99 1213.01,399.61 1213.34,395.65 1213.67,401.81 1214,399.62 1214.33,397.79 1214.66,398.9 1214.99,397.14 1215.32,398.23 1215.65,396.27 1215.98,399.85 1216.31,399.79 1216.64,399.09 1216.97,403.47 1217.31,397.03 1217.64,401.95 1217.97,397.89 1218.3,397.4 1218.63,398.42 1218.96,400.23 1219.29,402.08 1219.62,405.28 1219.95,399.91 1220.28,401.63 1220.61,397.67 1220.94,401.82 1221.27,399.98 1221.6,402.12 1221.93,400.46 1222.27,402.09 1222.6,401.77 1222.93,405.29 1223.26,402.95 1223.59,401.85 1223.92,399 1224.25,401.08 1224.58,404.15 1224.91,398.49 1225.24,401.03 1225.57,399.53 1225.9,403.66 1226.23,406.99 1226.56,403.47 1226.89,404.03 1227.23,401.46 1227.56,405.15 1227.89,403.88 1228.22,404.88 1228.55,401.89 1228.88,404.06 1229.21,399.48 1229.54,400.69 1229.87,400.62 1230.2,402.78 1230.53,401.91 1230.86,400.7 1231.19,404.16 1231.52,400.02 1231.85,402.7 1232.19,400.06 1232.52,398.13 1232.85,399.54" fill="none" stroke="#1f77b4" stroke-width="0.9" stroke-linejoin="round" />
<rect x="1116.7" y="84.1" width="132.3" height="23.4" fill="#eaeaf2" rx="3" stroke="#d0d0d8" stroke-width="1" fill-opacity="1.0"/>
<line x1="1121.4" y1="94.3" x2="1148.2" y2="94.3" stroke="#1f77b4" stroke-width="1" />
<text x="1158.7" y="99.1" font-family="'DejaVu Sans', 'Liberation Sans', sans-serif" font-size="12.9" fill="#262626" stroke="#262626" stroke-width="0.22" >Training_Loss</text>
<rect x="1280" y="55.7" width="581" height="413.3" fill="#eaeaf0" />
<line x1="1398" y1="285.33" x2="1823.8" y2="285.33" stroke="#d9d9de" stroke-width="1.5" />
<line x1="1398" y1="222.07" x2="1823.8" y2="222.07" stroke="#d9d9de" stroke-width="1.5" />
<line x1="1398" y1="158.8" x2="1823.8" y2="158.8" stroke="#d9d9de" stroke-width="1.5" />
<line x1="1476.32" y1="128.3" x2="1476.32" y2="346" stroke="#d9d9de" stroke-width="1.5" />
<line x1="1558.14" y1="128.3" x2="1558.14" y2="346" stroke="#d9d9de" stroke-width="1.5" />
<line x1="1639.96" y1="128.3" x2="1639.96" y2="346" stroke="#d9d9de" stroke-width="1.5" />
<line x1="1721.78" y1="128.3" x2="1721.78" y2="346" stroke="#d9d9de" stroke-width="1.5" />
<line x1="1803.6" y1="128.3" x2="1803.6" y2="346" stroke="#d9d9de" stroke-width="1.5" />
<rect x="1390" y="127.5" width="8.3" height="221.5" fill="#bfbfbf" />
<rect x="1393.5" y="345" width="430.9" height="7.5" fill="#bfbfbf" />
<text x="1369.5" y="356.6" font-family="'Liberation Sans', Arial, sans-serif" font-size="24.4" fill="#434343" text-anchor="end" >80</text>
<text x="1369.5" y="293.33" font-family="'Liberation Sans', Arial, sans-serif" font-size="24.4" fill="#434343" text-anchor="end" >82</text>
<text x="1369.5" y="230.07" font-family="'Liberation Sans', Arial, sans-serif" font-size="24.4" fill="#434343" text-anchor="end" >84</text>
<text x="1369.5" y="166.8" font-family="'Liberation Sans', Arial, sans-serif" font-size="24.4" fill="#434343" text-anchor="end" >86</text>
<rect x="1380.7" y="366.5" width="27.4" height="32.2" fill="#d9d9d9" />
<text x="1394.5" y="391.9" font-family="'Liberation Sans', Arial, sans-serif" font-size="24" fill="#434343" text-anchor="middle" >12</text>
<rect x="1462.52" y="366.5" width="27.4" height="32.2" fill="#d9d9d9" />
<text x="1476.32" y="391.9" font-family="'Liberation Sans', Arial, sans-serif" font-size="24" fill="#434343" text-anchor="middle" >16</text>
<rect x="1544.34" y="366.5" width="27.4" height="32.2" fill="#d9d9d9" />
<text x="1558.14" y="391.9" font-family="'Liberation Sans', Arial, sans-serif" font-size="24" fill="#434343" text-anchor="middle" >20</text>
<rect x="1626.16" y="366.5" width="27.4" height="32.2" fill="#d9d9d9" />
<text x="1639.96" y="391.9" font-family="'Liberation Sans', Arial, sans-serif" font-size="24" fill="#434343" text-anchor="middle" >24</text>
<rect x="1707.98" y="366.5" width="27.4" height="32.2" fill="#d9d9d9" />
<text x="1721.78" y="391.9" font-family="'Liberation Sans', Arial, sans-serif" font-size="24" fill="#434343" text-anchor="middle" >28</text>
<rect x="1789.8" y="366.5" width="27.4" height="32.2" fill="#d9d9d9" />
<text x="1803.6" y="391.9" font-family="'Liberation Sans', Arial, sans-serif" font-size="24" fill="#434343" text-anchor="middle" >32</text>
<text x="1609.8" y="109.7" font-family="'Liberation Sans', Arial, sans-serif" font-size="26.4" fill="#474747" text-anchor="middle" font-weight="bold" textLength="426" lengthAdjust="spacingAndGlyphs" >Tumor Region Segment Evaluation</text>
<text x="1609.4" y="436" font-family="'Liberation Sans', Arial, sans-serif" font-size="24" fill="#474747" text-anchor="middle" font-weight="bold" textLength="238" lengthAdjust="spacingAndGlyphs" >Inference Speed(FPS)</text>
<text x="1325.8" y="238.3" font-family="'Liberation Sans', Arial, sans-serif" font-size="24.2" fill="#474747" text-anchor="middle" font-weight="bold" transform="rotate(-90 1325.8 238.3)" textLength="155" lengthAdjust="spacingAndGlyphs" >Mean Dice(%)</text>
<circle cx="1460.9" cy="242.5" r="13.2" fill="#0070c0"/>
<circle cx="1664.5" cy="197.2" r="13.3" fill="#00b050"/>
<circle cx="1734.2" cy="283" r="13.3" fill="#c00000"/>
<text x="1392.3" y="180.6" font-family="'Liberation Sans', Arial, sans-serif" font-size="24.6" fill="#3c3c3c" >Segformer,8</text>
<text x="1436.3" y="213.8" font-family="'Liberation Sans', Arial, sans-serif" font-size="24.2" fill="#3c3c3c" >3.37</text>
<text x="1637.5" y="166.8" font-family="'Liberation Sans', Arial, sans-serif" font-size="49" fill="#000" >K-…</text>
<text x="1683.1" y="252.6" font-family="'Liberation Sans', Arial, sans-serif" font-size="49" fill="#000" >PSPN…</text>
<rect x="229.4" y="519.4" width="509.3" height="413.9" fill="#ffffff" />
<rect x="276" y="548" width="453.8" height="337" fill="#eaeaf2" />
<text x="289.5" y="905.2" font-family="'DejaVu Sans', 'Liberation Sans', sans-serif" font-size="13.1" fill="#262626" stroke="#262626" stroke-width="0.22" text-anchor="middle" >0</text>
<text x="359.47" y="905.2" font-family="'DejaVu Sans', 'Liberation Sans', sans-serif" font-size="13.1" fill="#262626" stroke="#262626" stroke-width="0.22" text-anchor="middle" >500</text>
<text x="429.43" y="905.2" font-family="'DejaVu Sans', 'Liberation Sans', sans-serif" font-size="13.1" fill="#262626" stroke="#262626" stroke-width="0.22" text-anchor="middle" >1000</text>
<text x="499.4" y="905.2" font-family="'DejaVu Sans', 'Liberation Sans', sans-serif" font-size="13.1" fill="#262626" stroke="#262626" stroke-width="0.22" text-anchor="middle" >1500</text>
<text x="569.37" y="905.2" font-family="'DejaVu Sans', 'Liberation Sans', sans-serif" font-size="13.1" fill="#262626" stroke="#262626" stroke-width="0.22" text-anchor="middle" >2000</text>
<text x="639.33" y="905.2" font-family="'DejaVu Sans', 'Liberation Sans', sans-serif" font-size="13.1" fill="#262626" stroke="#262626" stroke-width="0.22" text-anchor="middle" >2500</text>
<text x="709.3" y="905.2" font-family="'DejaVu Sans', 'Liberation Sans', sans-serif" font-size="13.1" fill="#262626" stroke="#262626" stroke-width="0.22" text-anchor="middle" >3000</text>
<text x="266.9" y="882.2" font-family="'DejaVu Sans', 'Liberation Sans', sans-serif" font-size="13.1" fill="#262626" stroke="#262626" stroke-width="0.22" text-anchor="end" >70.0</text>
<text x="266.9" y="840.33" font-family="'DejaVu Sans', 'Liberation Sans', sans-serif" font-size="13.1" fill="#262626" stroke="#262626" stroke-width="0.22" text-anchor="end" >72.5</text>
<text x="266.9" y="798.46" font-family="'DejaVu Sans', 'Liberation Sans', sans-serif" font-size="13.1" fill="#262626" stroke="#262626" stroke-width="0.22" text-anchor="end" >75.0</text>
<text x="266.9" y="756.59" font-family="'DejaVu Sans', 'Liberation Sans', sans-serif" font-size="13.1" fill="#262626" stroke="#262626" stroke-width="0.22" text-anchor="end" >77.5</text>
<text x="266.9" y="714.71" font-family="'DejaVu Sans', 'Liberation Sans', sans-serif" font-size="13.1" fill="#262626" stroke="#262626" stroke-width="0.22" text-anchor="end" >80.0</text>
<text x="266.9" y="672.84" font-family="'DejaVu Sans', 'Liberation Sans', sans-serif" font-size="13.1" fill="#262626" stroke="#262626" stroke-width="0.22" text-anchor="end" >82.5</text>
<text x="266.9" y="630.97" font-family="'DejaVu Sans', 'Liberation Sans', sans-serif" font-size="13.1" fill="#262626" stroke="#262626" stroke-width="0.22" text-anchor="end" >85.0</text>
<text x="266.9" y="589.1" font-family="'DejaVu Sans', 'Liberation Sans', sans-serif" font-size="13.1" fill="#262626" stroke="#262626" stroke-width="0.22" text-anchor="end" >87.5</text>
<text x="502.9" y="540.7" font-family="'DejaVu Sans', 'Liberation Sans', sans-serif" font-size="15.4" fill="#262626" stroke="#262626" stroke-width="0.22" text-anchor="middle" >Nucleus Detection Accuracy</text>
<text x="502.9" y="922.2" font-family="'DejaVu Sans', 'Liberation Sans', sans-serif" font-size="13.1" fill="#262626" stroke="#262626" stroke-width="0.22" text-anchor="middle" >iter</text>
<polyline points="296.5,766.05 303.49,740.26 310.49,714.13 317.49,607.45 324.48,586.01 331.48,609.12 338.48,649.99 345.47,656.52 352.47,659.03 359.47,655.68 366.46,656.02 373.46,653.34 380.46,649.48 387.45,642.79 394.45,638.43 401.45,631.23 408.44,624.36 415.44,624.03 422.44,621.35 429.43,613.14 436.43,614.14 443.43,615.15 450.42,606.94 457.42,610.96 464.42,601.92 471.41,598.74 478.41,601.75 485.41,604.43 492.4,595.89 499.4,595.39 506.4,595.05 513.39,595.05 520.39,591.03 527.39,588.02 534.38,585.84 541.38,588.02 548.38,589.52 555.37,585.84 562.37,589.86 569.37,586.51 576.36,580.31 583.36,583.33 590.36,584.5 597.35,581.15 604.35,586.84 611.35,582.32 618.34,582.32 625.34,580.65 632.34,574.95 639.33,572.44 646.33,571.77 653.33,571.1 660.32,572.44 667.32,570.1 674.32,571.27 681.31,571.44 688.31,571.44 695.31,573.28 702.3,572.78 709.3,569.26" fill="none" stroke="#1f77b4" stroke-width="1.4" stroke-linejoin="round" />
<polyline points="296.5,871.07 303.49,675.61 310.49,698.89 317.49,656.52 324.48,610.13 331.48,626.87 338.48,685.33 345.47,684.32 352.47,685.83 359.47,679.13 366.46,677.62 373.46,675.78 380.46,670.92 387.45,664.22 394.45,657.02 401.45,647.81 408.44,644.46 415.44,646.64 422.44,640.61 429.43,630.73 436.43,631.23 443.43,631.4 450.42,622.69 457.42,631.4 464.42,615.65 471.41,610.46 478.41,616.82 485.41,617.16 492.4,604.77 499.4,602.42 506.4,601.08 513.39,602.76 520.39,592.04 527.39,589.52 534.38,588.85 541.38,591.37 548.38,592.54 555.37,586.51 562.37,594.72 569.37,588.52 576.36,580.31 583.36,584.5 590.36,585.67 597.35,580.82 604.35,589.52 611.35,581.32 618.34,582.32 625.34,583.33 632.34,573.28 639.33,568.76 646.33,566.91 653.33,567.25 660.32,568.25 667.32,566.91 674.32,568.25 681.31,569.43 688.31,566.58 695.31,566.58 702.3,568.25 709.3,562.39" fill="none" stroke="#ff7f0e" stroke-width="1.4" stroke-linejoin="round" />
<polyline points="296.5,754.5 303.49,642.45 310.49,663.05 317.49,656.02 324.48,661.88 331.48,658.53 338.48,703.41 345.47,720.67 352.47,721.5 359.47,704.92 366.46,708.94 373.46,700.23 380.46,693.53 387.45,683.65 394.45,679.13 401.45,671.43 408.44,668.24 415.44,669.58 422.44,664.22 429.43,656.52 436.43,656.02 443.43,657.36 450.42,646.97 457.42,656.02 464.42,641.95 471.41,638.1 478.41,643.96 485.41,644.46 492.4,630.06 499.4,625.37 506.4,626.37 513.39,626.2 520.39,616.82 527.39,613.48 534.38,612.47 541.38,616.49 548.38,615.15 555.37,608.62 562.37,617.16 569.37,613.81 576.36,602.92 583.36,607.95 590.36,610.13 597.35,603.93 604.35,613.98 611.35,602.09 618.34,605.77 625.34,607.45 632.34,594.21 639.33,590.03 646.33,589.86 653.33,589.02 660.32,588.52 667.32,588.52 674.32,588.69 681.31,590.36 688.31,588.18 695.31,586.68 702.3,588.69 709.3,584.33" fill="none" stroke="#2ca02c" stroke-width="1.4" stroke-linejoin="round" />
<rect x="637" y="820" width="86.5" height="59.5" fill="#eaeaf2" rx="3" stroke="#d0d0d8" stroke-width="1" fill-opacity="1.0"/>
<line x1="640.5" y1="830.2" x2="668" y2="830.2" stroke="#1f77b4" stroke-width="1.5" />
<text x="677.8" y="834.8" font-family="'DejaVu Sans', 'Liberation Sans', sans-serif" font-size="12.7" fill="#262626" stroke="#262626" stroke-width="0.22" >s0.acc</text>
<line x1="640.5" y1="849.3" x2="668" y2="849.3" stroke="#ff7f0e" stroke-width="1.5" />
<text x="677.8" y="853.9" font-family="'DejaVu Sans', 'Liberation Sans', sans-serif" font-size="12.7" fill="#262626" stroke="#262626" stroke-width="0.22" >s1.acc</text>
<line x1="640.5" y1="867.8" x2="668" y2="867.8" stroke="#2ca02c" stroke-width="1.5" />
<text x="677.8" y="872.4" font-family="'DejaVu Sans', 'Liberation Sans', sans-serif" font-size="12.7" fill="#262626" stroke="#262626" stroke-width="0.22" >s2.acc</text>
<rect x="760" y="518.8" width="495.6" height="418.2" fill="#ffffff" />
<rect x="786.9" y="546.8" width="458.7" height="341.5" fill="#eaeaf2" />
<text x="799.9" y="908.1" font-family="'DejaVu Sans', 'Liberation Sans', sans-serif" font-size="13.1" fill="#262626" stroke="#262626" stroke-width="0.22" text-anchor="middle" >0</text>
<text x="870.73" y="908.1" font-family="'DejaVu Sans', 'Liberation Sans', sans-serif" font-size="13.1" fill="#262626" stroke="#262626" stroke-width="0.22" text-anchor="middle" >500</text>
<text x="941.57" y="908.1" font-family="'DejaVu Sans', 'Liberation Sans', sans-serif" font-size="13.1" fill="#262626" stroke="#262626" stroke-width="0.22" text-anchor="middle" >1000</text>
<text x="1012.4" y="908.1" font-family="'DejaVu Sans', 'Liberation Sans', sans-serif" font-size="13.1" fill="#262626" stroke="#262626" stroke-width="0.22" text-anchor="middle" >1500</text>
<text x="1083.23" y="908.1" font-family="'DejaVu Sans', 'Liberation Sans', sans-serif" font-size="13.1" fill="#262626" stroke="#262626" stroke-width="0.22" text-anchor="middle" >2000</text>
<text x="1154.07" y="908.1" font-family="'DejaVu Sans', 'Liberation Sans', sans-serif" font-size="13.1" fill="#262626" stroke="#262626" stroke-width="0.22" text-anchor="middle" >2500</text>
<text x="1224.9" y="908.1" font-family="'DejaVu Sans', 'Liberation Sans', sans-serif" font-size="13.1" fill="#262626" stroke="#262626" stroke-width="0.22" text-anchor="middle" >3000</text>
<text x="777.8" y="845.8" font-family="'DejaVu Sans', 'Liberation Sans', sans-serif" font-size="13.1" fill="#262626" stroke="#262626" stroke-width="0.22" text-anchor="end" >1</text>
<text x="777.8" y="788.36" font-family="'DejaVu Sans', 'Liberation Sans', sans-serif" font-size="13.1" fill="#262626" stroke="#262626" stroke-width="0.22" text-anchor="end" >2</text>
<text x="777.8" y="730.92" font-family="'DejaVu Sans', 'Liberation Sans', sans-serif" font-size="13.1" fill="#262626" stroke="#262626" stroke-width="0.22" text-anchor="end" >3</text>
<text x="777.8" y="673.48" font-family="'DejaVu Sans', 'Liberation Sans', sans-serif" font-size="13.1" fill="#262626" stroke="#262626" stroke-width="0.22" text-anchor="end" >4</text>
<text x="777.8" y="616.04" font-family="'DejaVu Sans', 'Liberation Sans', sans-serif" font-size="13.1" fill="#262626" stroke="#262626" stroke-width="0.22" text-anchor="end" >5</text>
<text x="777.8" y="558.6" font-family="'DejaVu Sans', 'Liberation Sans', sans-serif" font-size="13.1" fill="#262626" stroke="#262626" stroke-width="0.22" text-anchor="end" >6</text>
<text x="1016.2" y="538.9" font-family="'DejaVu Sans', 'Liberation Sans', sans-serif" font-size="15.5" fill="#262626" stroke="#262626" stroke-width="0.22" text-anchor="middle" >Nucleus Detection Loss</text>
<text x="1016.2" y="925.2" font-family="'DejaVu Sans', 'Liberation Sans', sans-serif" font-size="13.1" fill="#262626" stroke="#262626" stroke-width="0.22" text-anchor="middle" >iter</text>
<polyline points="806.98,738.03 814.07,846.02 821.15,855.21 828.23,858.66 835.32,860.38 842.4,862.68 849.48,864.4 856.57,864.98 863.65,864.69 870.73,866.47 877.82,865.72 884.9,867.27 891.98,867.27 899.07,867.62 906.15,868.42 913.23,869.23 920.32,868.59 927.4,869.4 934.48,869.63 941.57,869.63 955.73,870.15 976.98,870.49 998.23,870.72 1012.4,870.43 1019.48,871.01 1040.73,871.29 1054.9,871.47 1063.4,871.29 1083.23,871.58 1104.48,871.87 1111.57,872.33 1139.9,872.44 1154.07,872.9 1182.4,873.02 1224.9,873.3" fill="none" stroke="#1f77b4" stroke-width="1.4" stroke-linejoin="round" />
<polyline points="806.98,561.41 814.07,723.1 821.15,738.9 828.23,754.4 835.32,761.58 842.4,761.58 849.48,760.44 856.57,766.18 863.65,770.2 870.73,775.02 877.82,776.23 884.9,779.62 891.98,781.34 899.07,785.42 906.15,788.29 913.23,790.42 920.32,790.99 927.4,792.14 934.48,793.29 941.57,795.01 948.65,795.82 955.73,797.02 962.82,798.92 969.9,797.71 976.98,800.3 984.07,801.79 991.15,801.22 998.23,800.64 1005.32,803.8 1012.4,803.52 1019.48,804.09 1026.57,804.38 1033.65,806.1 1040.73,806.96 1047.82,808.11 1054.9,807.54 1061.98,806.39 1069.07,808.11 1076.15,806.96 1083.23,807.54 1090.32,809.83 1097.4,809.83 1104.48,808.68 1111.57,810.7 1118.65,808.68 1125.73,809.26 1132.82,809.26 1139.9,810.7 1146.98,812.71 1154.07,813.28 1161.15,813.85 1168.23,813.97 1182.4,814.14 1196.57,814.43 1210.73,814.72 1224.9,815" fill="none" stroke="#ff7f0e" stroke-width="1.4" stroke-linejoin="round" />
<rect x="1127.5" y="552.7" width="112.1" height="41.9" fill="#eaeaf2" rx="3" stroke="#d0d0d8" stroke-width="1" fill-opacity="1.0"/>
<line x1="1132.2" y1="563.7" x2="1158.8" y2="563.7" stroke="#1f77b4" stroke-width="1.4" />
<text x="1168.2" y="568.3" font-family="'DejaVu Sans', 'Liberation Sans', sans-serif" font-size="12.8" fill="#262626" stroke="#262626" stroke-width="0.22" >loss_mask</text>
<line x1="1132.2" y1="582.2" x2="1158.8" y2="582.2" stroke="#ff7f0e" stroke-width="1.4" />
<text x="1168.2" y="586.8" font-family="'DejaVu Sans', 'Liberation Sans', sans-serif" font-size="12.8" fill="#262626" stroke="#262626" stroke-width="0.22" >loss</text>
<rect x="1269.6" y="520.3" width="560.4" height="412.3" fill="#eaeaf2" />
<rect x="1306.5" y="527.9" width="503.1" height="394.4" fill="#ffffff" />
<line x1="1376.1" y1="559" x2="1376.1" y2="868.1" stroke="#b0b0b0" stroke-width="1" />
<line x1="1375.6" y1="867.5" x2="1790.4" y2="867.5" stroke="#b0b0b0" stroke-width="1" />
<line x1="1458.2" y1="559" x2="1458.2" y2="868.1" stroke="#b0b0b0" stroke-width="1" />
<line x1="1375.6" y1="806.44" x2="1790.4" y2="806.44" stroke="#b0b0b0" stroke-width="1" />
<line x1="1540.3" y1="559" x2="1540.3" y2="868.1" stroke="#b0b0b0" stroke-width="1" />
<line x1="1375.6" y1="745.38" x2="1790.4" y2="745.38" stroke="#b0b0b0" stroke-width="1" />
<line x1="1622.4" y1="559" x2="1622.4" y2="868.1" stroke="#b0b0b0" stroke-width="1" />
<line x1="1375.6" y1="684.32" x2="1790.4" y2="684.32" stroke="#b0b0b0" stroke-width="1" />
<line x1="1704.5" y1="559" x2="1704.5" y2="868.1" stroke="#b0b0b0" stroke-width="1" />
<line x1="1375.6" y1="623.26" x2="1790.4" y2="623.26" stroke="#b0b0b0" stroke-width="1" />
<line x1="1786.6" y1="559" x2="1786.6" y2="868.1" stroke="#b0b0b0" stroke-width="1" />
<line x1="1375.6" y1="562.2" x2="1790.4" y2="562.2" stroke="#b0b0b0" stroke-width="1" />
<polyline points="1376.1,562.2 1380.41,568.31 1403.19,568.31 1412.22,573.8 1417.15,575.33 1433.16,576.55 1437.67,578.69 1458.2,582.04 1474.62,585.71 1499.25,587.23 1523.88,588.76 1548.51,589.68 1569.03,597.31 1593.66,601.89 1622.4,610.13 1656.88,622.04 1688.08,637 1718.87,656.84 1737.75,679.13 1741.32,690.43 1742.27,714.85 1743.09,760.03 1745.14,867.5 1786.6,867.5" fill="none" stroke="#00bfbf" stroke-width="2" stroke-linejoin="round" clip-path="url(#prclip)"/>
<polyline points="1376.1,562.2 1379.59,571.05 1403.19,572.58 1417.15,573.5 1427.82,578.99 1433.16,580.52 1458.2,582.04 1474.62,584.18 1499.25,586.62 1523.88,588.46 1548.51,591.2 1569.03,594.87 1593.66,600.36 1622.4,608.61 1656.88,621.12 1688.08,632.11 1704.09,640.66 1718.87,655.62 1737.75,674.25 1743.91,689.2 1745.55,702.64 1746.78,760.03 1748.83,867.5 1786.6,867.5" fill="none" stroke="#bf00bf" stroke-width="2" stroke-linejoin="round" clip-path="url(#prclip)"/>
<polyline points="1376.1,562.2 1385.54,562.2 1388.83,564.95 1401.76,564.95 1414.28,570.14 1427.82,571.05 1433.16,573.8 1464.77,573.8 1480.37,579.3 1506.64,582.96 1527.57,584.79 1558.77,588.76 1580.12,594.26 1593.66,598.23 1622.4,609.83 1656.88,621.12 1688.08,636.39 1718.87,660.51 1728.72,671.8 1737.75,680.35 1743.91,691.34 1750.07,710.27 1752.53,719.43 1758.69,760.03 1764.02,806.44 1766.9,867.5 1786.6,867.5" fill="none" stroke="#0000ff" stroke-width="2" stroke-linejoin="round" clip-path="url(#prclip)"/>
<polyline points="1376.1,562.2 1388,562.2 1393.34,564.34 1414.28,565.56 1433.16,568.92 1458.2,571.36 1469.69,575.94 1495.97,577.77 1527.57,582.96 1540.3,585.1 1564.11,589.37 1570.14,591.2 1594.9,596.09 1621.99,603.11 1649.49,612.88 1678.02,625.4 1691.77,630.28 1704.09,636.39 1712.71,643.72 1723.79,655.62 1728.72,662.95 1737.75,673.63 1743.91,684.63 1749.24,701.11 1752.53,719.12 1758.69,760.03 1765.66,805.52 1770.18,867.5 1786.6,867.5" fill="none" stroke="#000000" stroke-width="2" stroke-linejoin="round" clip-path="url(#prclip)"/>
<clipPath id="prclip"><rect x="1375.6" y="559" width="414.8" height="309.1"/></clipPath>
<rect x="1375.6" y="559" width="414.8" height="309.1" fill="none" stroke="#000" stroke-width="1" />
<line x1="1376.1" y1="868.1" x2="1376.1" y2="871.8" stroke="#000" stroke-width="1" />
<line x1="1371.9" y1="867.5" x2="1375.6" y2="867.5" stroke="#000" stroke-width="1" />
<text x="1376.1" y="888.6" font-family="'DejaVu Sans', 'Liberation Sans', sans-serif" font-size="17.1" fill="#000" text-anchor="middle" font-weight="bold" >0.0</text>
<text x="1367.6" y="873.8" font-family="'DejaVu Sans', 'Liberation Sans', sans-serif" font-size="17.1" fill="#000" text-anchor="end" font-weight="bold" >0.0</text>
<line x1="1458.2" y1="868.1" x2="1458.2" y2="871.8" stroke="#000" stroke-width="1" />
<line x1="1371.9" y1="806.44" x2="1375.6" y2="806.44" stroke="#000" stroke-width="1" />
<text x="1458.2" y="888.6" font-family="'DejaVu Sans', 'Liberation Sans', sans-serif" font-size="17.1" fill="#000" text-anchor="middle" font-weight="bold" >0.2</text>
<text x="1367.6" y="812.74" font-family="'DejaVu Sans', 'Liberation Sans', sans-serif" font-size="17.1" fill="#000" text-anchor="end" font-weight="bold" >0.2</text>
<line x1="1540.3" y1="868.1" x2="1540.3" y2="871.8" stroke="#000" stroke-width="1" />
<line x1="1371.9" y1="745.38" x2="1375.6" y2="745.38" stroke="#000" stroke-width="1" />
<text x="1540.3" y="888.6" font-family="'DejaVu Sans', 'Liberation Sans', sans-serif" font-size="17.1" fill="#000" text-anchor="middle" font-weight="bold" >0.4</text>
<text x="1367.6" y="751.68" font-family="'DejaVu Sans', 'Liberation Sans', sans-serif" font-size="17.1" fill="#000" text-anchor="end" font-weight="bold" >0.4</text>
<line x1="1622.4" y1="868.1" x2="1622.4" y2="871.8" stroke="#000" stroke-width="1" />
<line x1="1371.9" y1="684.32" x2="1375.6" y2="684.32" stroke="#000" stroke-width="1" />
<text x="1622.4" y="888.6" font-family="'DejaVu Sans', 'Liberation Sans', sans-serif" font-size="17.1" fill="#000" text-anchor="middle" font-weight="bold" >0.6</text>
<text x="1367.6" y="690.62" font-family="'DejaVu Sans', 'Liberation Sans', sans-serif" font-size="17.1" fill="#000" text-anchor="end" font-weight="bold" >0.6</text>
<line x1="1704.5" y1="868.1" x2="1704.5" y2="871.8" stroke="#000" stroke-width="1" />
<line x1="1371.9" y1="623.26" x2="1375.6" y2="623.26" stroke="#000" stroke-width="1" />
<text x="1704.5" y="888.6" font-family="'DejaVu Sans', 'Liberation Sans', sans-serif" font-size="17.1" fill="#000" text-anchor="middle" font-weight="bold" >0.8</text>
<text x="1367.6" y="629.56" font-family="'DejaVu Sans', 'Liberation Sans', sans-serif" font-size="17.1" fill="#000" text-anchor="end" font-weight="bold" >0.8</text>
<line x1="1786.6" y1="868.1" x2="1786.6" y2="871.8" stroke="#000" stroke-width="1" />
<line x1="1371.9" y1="562.2" x2="1375.6" y2="562.2" stroke="#000" stroke-width="1" />
<text x="1786.6" y="888.6" font-family="'DejaVu Sans', 'Liberation Sans', sans-serif" font-size="17.1" fill="#000" text-anchor="middle" font-weight="bold" >1.0</text>
<text x="1367.6" y="568.5" font-family="'DejaVu Sans', 'Liberation Sans', sans-serif" font-size="17.1" fill="#000" text-anchor="end" font-weight="bold" >1.0</text>
<text x="1583" y="551.6" font-family="'DejaVu Sans', 'Liberation Sans', sans-serif" font-size="21" fill="#000" text-anchor="middle" font-weight="bold" >PR curve of Nucleus Detection</text>
<text x="1582.8" y="910.5" font-family="'DejaVu Sans', 'Liberation Sans', sans-serif" font-size="17.4" fill="#000" text-anchor="middle" font-weight="bold" >Recall(IoU=0.5)</text>
<text x="1330" y="715.3" font-family="'DejaVu Sans', 'Liberation Sans', sans-serif" font-size="17.4" fill="#000" text-anchor="middle" font-weight="bold" transform="rotate(-90 1330 715.3)" >Precison(IoU=0.5)</text>
<rect x="1381.3" y="789.1" width="163.7" height="72.8" fill="#ffffff" rx="3" stroke="#d5d5d5" stroke-width="1" fill-opacity="0.8"/>
<line x1="1385.2" y1="798.6" x2="1410.2" y2="798.6" stroke="#00bfbf" stroke-width="2" />
<text x="1418.4" y="802.9" font-family="'DejaVu Sans', 'Liberation Sans', sans-serif" font-size="11.7" fill="#262626" stroke="#262626" stroke-width="0.22" >Mask_RCNN</text>
<line x1="1385.2" y1="816.1" x2="1410.2" y2="816.1" stroke="#bf00bf" stroke-width="2" />
<text x="1418.4" y="820.4" font-family="'DejaVu Sans', 'Liberation Sans', sans-serif" font-size="11.7" fill="#262626" stroke="#262626" stroke-width="0.22" >Cascade_Mask RCNN</text>
<line x1="1385.2" y1="833.6" x2="1410.2" y2="833.6" stroke="#0000ff" stroke-width="2" />
<text x="1418.4" y="837.9" font-family="'DejaVu Sans', 'Liberation Sans', sans-serif" font-size="11.7" fill="#262626" stroke="#262626" stroke-width="0.22" >HTC</text>
<line x1="1385.2" y1="850.9" x2="1410.2" y2="850.9" stroke="#000000" stroke-width="2" />
<text x="1418.4" y="855.2" font-family="'DejaVu Sans', 'Liberation Sans', sans-serif" font-size="11.7" fill="#262626" stroke="#262626" stroke-width="0.22" >SCNet + DCN + LSJ</text>
<rect x="194.6" y="977.5" width="526.8" height="428.5" fill="#ffffff" />
<line x1="264.4" y1="1356.4" x2="264.4" y2="1360.9" stroke="#000" stroke-width="1" />
<text x="264.4" y="1375.9" font-family="'DejaVu Sans', 'Liberation Sans', sans-serif" font-size="13.2" fill="#000" stroke="#000" stroke-width="0.22" text-anchor="middle" >0</text>
<line x1="326.24" y1="1356.4" x2="326.24" y2="1360.9" stroke="#000" stroke-width="1" />
<text x="326.24" y="1375.9" font-family="'DejaVu Sans', 'Liberation Sans', sans-serif" font-size="13.2" fill="#000" stroke="#000" stroke-width="0.22" text-anchor="middle" >10</text>
<line x1="388.09" y1="1356.4" x2="388.09" y2="1360.9" stroke="#000" stroke-width="1" />
<text x="388.09" y="1375.9" font-family="'DejaVu Sans', 'Liberation Sans', sans-serif" font-size="13.2" fill="#000" stroke="#000" stroke-width="0.22" text-anchor="middle" >20</text>
<line x1="449.93" y1="1356.4" x2="449.93" y2="1360.9" stroke="#000" stroke-width="1" />
<text x="449.93" y="1375.9" font-family="'DejaVu Sans', 'Liberation Sans', sans-serif" font-size="13.2" fill="#000" stroke="#000" stroke-width="0.22" text-anchor="middle" >30</text>
<line x1="511.77" y1="1356.4" x2="511.77" y2="1360.9" stroke="#000" stroke-width="1" />
<text x="511.77" y="1375.9" font-family="'DejaVu Sans', 'Liberation Sans', sans-serif" font-size="13.2" fill="#000" stroke="#000" stroke-width="0.22" text-anchor="middle" >40</text>
<line x1="573.61" y1="1356.4" x2="573.61" y2="1360.9" stroke="#000" stroke-width="1" />
<text x="573.61" y="1375.9" font-family="'DejaVu Sans', 'Liberation Sans', sans-serif" font-size="13.2" fill="#000" stroke="#000" stroke-width="0.22" text-anchor="middle" >50</text>
<line x1="635.46" y1="1356.4" x2="635.46" y2="1360.9" stroke="#000" stroke-width="1" />
<text x="635.46" y="1375.9" font-family="'DejaVu Sans', 'Liberation Sans', sans-serif" font-size="13.2" fill="#000" stroke="#000" stroke-width="0.22" text-anchor="middle" >60</text>
<line x1="697.3" y1="1356.4" x2="697.3" y2="1360.9" stroke="#000" stroke-width="1" />
<text x="697.3" y="1375.9" font-family="'DejaVu Sans', 'Liberation Sans', sans-serif" font-size="13.2" fill="#000" stroke="#000" stroke-width="0.22" text-anchor="middle" >70</text>
<line x1="238.6" y1="1349.7" x2="243.1" y2="1349.7" stroke="#000" stroke-width="1" />
<text x="233.4" y="1354.6" font-family="'DejaVu Sans', 'Liberation Sans', sans-serif" font-size="13.2" fill="#000" stroke="#000" stroke-width="0.22" text-anchor="end" >0.65</text>
<line x1="238.6" y1="1299.38" x2="243.1" y2="1299.38" stroke="#000" stroke-width="1" />
<text x="233.4" y="1304.28" font-family="'DejaVu Sans', 'Liberation Sans', sans-serif" font-size="13.2" fill="#000" stroke="#000" stroke-width="0.22" text-anchor="end" >0.70</text>
<line x1="238.6" y1="1249.07" x2="243.1" y2="1249.07" stroke="#000" stroke-width="1" />
<text x="233.4" y="1253.97" font-family="'DejaVu Sans', 'Liberation Sans', sans-serif" font-size="13.2" fill="#000" stroke="#000" stroke-width="0.22" text-anchor="end" >0.75</text>
<line x1="238.6" y1="1198.75" x2="243.1" y2="1198.75" stroke="#000" stroke-width="1" />
<text x="233.4" y="1203.65" font-family="'DejaVu Sans', 'Liberation Sans', sans-serif" font-size="13.2" fill="#000" stroke="#000" stroke-width="0.22" text-anchor="end" >0.80</text>
<line x1="238.6" y1="1148.43" x2="243.1" y2="1148.43" stroke="#000" stroke-width="1" />
<text x="233.4" y="1153.33" font-family="'DejaVu Sans', 'Liberation Sans', sans-serif" font-size="13.2" fill="#000" stroke="#000" stroke-width="0.22" text-anchor="end" >0.85</text>
<line x1="238.6" y1="1098.12" x2="243.1" y2="1098.12" stroke="#000" stroke-width="1" />
<text x="233.4" y="1103.02" font-family="'DejaVu Sans', 'Liberation Sans', sans-serif" font-size="13.2" fill="#000" stroke="#000" stroke-width="0.22" text-anchor="end" >0.90</text>
<line x1="238.6" y1="1047.8" x2="243.1" y2="1047.8" stroke="#000" stroke-width="1" />
<text x="233.4" y="1052.7" font-family="'DejaVu Sans', 'Liberation Sans', sans-serif" font-size="13.2" fill="#000" stroke="#000" stroke-width="0.22" text-anchor="end" >0.95</text>
<text x="476.7" y="999.3" font-family="'DejaVu Sans', 'Liberation Sans', sans-serif" font-size="15.8" fill="#000" stroke="#000" stroke-width="0.22" text-anchor="middle" >Nucleus Classification Training Accuracy</text>
<text x="477.4" y="1393.4" font-family="'DejaVu Sans', 'Liberation Sans', sans-serif" font-size="13.2" fill="#000" stroke="#000" stroke-width="0.22" text-anchor="middle" >num_epoches</text>
<polyline points="264.4,1340.04 270.58,1304.92 276.77,1198.75 282.95,1093.09 289.14,1054.04 295.32,1045.28 301.51,1042.27 307.69,1040.55 313.87,1039.25 320.06,1038.74 326.24,1037.64 332.43,1036.43 338.61,1035.22 344.8,1035.02 350.98,1033.61 357.16,1035.52 363.35,1034.01 369.53,1033.71 375.72,1033.21 381.9,1032.7 388.09,1033.01 394.27,1031.2 400.45,1031.5 406.64,1031.2 412.82,1030.89 419.01,1030.39 425.19,1030.49 431.38,1029.69 437.56,1029.69 443.74,1029.38 449.93,1028.88 456.11,1028.68 462.3,1028.88 468.48,1028.48 474.67,1028.38 480.85,1028.18 487.03,1027.87 493.22,1027.67 499.4,1027.37 505.59,1027.47 511.77,1027.17 517.96,1027.37 524.14,1026.87 530.32,1026.67 536.51,1026.37 542.69,1026.26 548.88,1026.16 555.06,1025.86 561.25,1025.66 567.43,1025.66 573.61,1025.16 579.8,1025.36 585.98,1025.06 592.17,1024.96 598.35,1024.86 604.54,1024.86 610.72,1025.16 616.9,1024.75 623.09,1024.65 629.27,1024.65 635.46,1024.45 641.64,1024.55 647.83,1024.35 654.01,1024.15 660.19,1024.15 666.38,1024.25 672.56,1023.95 678.75,1023.85 684.93,1023.14 691.12,1023.04" fill="none" stroke="#1f77b4" stroke-width="1.75" stroke-linejoin="round" />
<polyline points="264.4,1310.45 270.58,1303.71 276.77,1137.36 282.95,1060.88 289.14,1043.37 295.32,1037.64 301.51,1035.93 307.69,1034.52 313.87,1033.61 320.06,1034.11 326.24,1032.91 332.43,1032.2 338.61,1032.91 344.8,1031.3 350.98,1031.3 357.16,1031.7 363.35,1030.89 369.53,1031.09 375.72,1030.69 381.9,1030.89 388.09,1030.39 394.27,1030.59 400.45,1030.29 406.64,1030.49 412.82,1030.89 419.01,1030.39 425.19,1029.69 431.38,1030.09 437.56,1029.59 443.74,1029.69 449.93,1029.08 456.11,1029.69 462.3,1029.08 468.48,1028.58 474.67,1029.18 480.85,1029.48 487.03,1029.79 493.22,1029.69 499.4,1029.48 505.59,1029.59 511.77,1029.48 517.96,1029.69 524.14,1029.59 530.32,1029.38 536.51,1029.48 542.69,1029.28 548.88,1029.69 555.06,1029.79 561.25,1029.59 567.43,1029.38 573.61,1029.99 579.8,1029.79 585.98,1029.89 592.17,1029.69 598.35,1029.99 604.54,1029.99 610.72,1029.69 616.9,1030.09 623.09,1029.99 629.27,1030.29 635.46,1030.39 641.64,1030.69 647.83,1031.8 654.01,1029.89 660.19,1030.49 666.38,1030.19 672.56,1031.8 678.75,1030.89 684.93,1030.99 691.12,1030.89" fill="none" stroke="#ff7f0e" stroke-width="1.75" stroke-linejoin="round" />
<rect x="243.1" y="1006.9" width="468.7" height="349.5" fill="none" stroke="#000" stroke-width="1" />
<rect x="600.2" y="1307.3" width="104.7" height="42.4" fill="#ffffff" rx="3" stroke="#cccccc" stroke-width="1" fill-opacity="0.8"/>
<line x1="605.7" y1="1317.9" x2="633" y2="1317.9" stroke="#1f77b4" stroke-width="1.75" />
<text x="642.7" y="1322.6" font-family="'DejaVu Sans', 'Liberation Sans', sans-serif" font-size="13.2" fill="#000" stroke="#000" stroke-width="0.22" >train acc</text>
<line x1="605.7" y1="1337" x2="633" y2="1337" stroke="#ff7f0e" stroke-width="1.75" />
<text x="642.7" y="1341.7" font-family="'DejaVu Sans', 'Liberation Sans', sans-serif" font-size="13.2" fill="#000" stroke="#000" stroke-width="0.22" >val acc</text>
<rect x="736.4" y="977.5" width="543.4" height="429.3" fill="#ffffff" />
<line x1="822.4" y1="1356.5" x2="822.4" y2="1361" stroke="#000" stroke-width="1" />
<text x="822.4" y="1375.9" font-family="'DejaVu Sans', 'Liberation Sans', sans-serif" font-size="13.2" fill="#000" stroke="#000" stroke-width="0.22" text-anchor="middle" >0</text>
<line x1="884.31" y1="1356.5" x2="884.31" y2="1361" stroke="#000" stroke-width="1" />
<text x="884.31" y="1375.9" font-family="'DejaVu Sans', 'Liberation Sans', sans-serif" font-size="13.2" fill="#000" stroke="#000" stroke-width="0.22" text-anchor="middle" >10</text>
<line x1="946.23" y1="1356.5" x2="946.23" y2="1361" stroke="#000" stroke-width="1" />
<text x="946.23" y="1375.9" font-family="'DejaVu Sans', 'Liberation Sans', sans-serif" font-size="13.2" fill="#000" stroke="#000" stroke-width="0.22" text-anchor="middle" >20</text>
<line x1="1008.14" y1="1356.5" x2="1008.14" y2="1361" stroke="#000" stroke-width="1" />
<text x="1008.14" y="1375.9" font-family="'DejaVu Sans', 'Liberation Sans', sans-serif" font-size="13.2" fill="#000" stroke="#000" stroke-width="0.22" text-anchor="middle" >30</text>
<line x1="1070.06" y1="1356.5" x2="1070.06" y2="1361" stroke="#000" stroke-width="1" />
<text x="1070.06" y="1375.9" font-family="'DejaVu Sans', 'Liberation Sans', sans-serif" font-size="13.2" fill="#000" stroke="#000" stroke-width="0.22" text-anchor="middle" >40</text>
<line x1="1131.97" y1="1356.5" x2="1131.97" y2="1361" stroke="#000" stroke-width="1" />
<text x="1131.97" y="1375.9" font-family="'DejaVu Sans', 'Liberation Sans', sans-serif" font-size="13.2" fill="#000" stroke="#000" stroke-width="0.22" text-anchor="middle" >50</text>
<line x1="1193.89" y1="1356.5" x2="1193.89" y2="1361" stroke="#000" stroke-width="1" />
<text x="1193.89" y="1375.9" font-family="'DejaVu Sans', 'Liberation Sans', sans-serif" font-size="13.2" fill="#000" stroke="#000" stroke-width="0.22" text-anchor="middle" >60</text>
<line x1="1255.8" y1="1356.5" x2="1255.8" y2="1361" stroke="#000" stroke-width="1" />
<text x="1255.8" y="1375.9" font-family="'DejaVu Sans', 'Liberation Sans', sans-serif" font-size="13.2" fill="#000" stroke="#000" stroke-width="0.22" text-anchor="middle" >70</text>
<line x1="796.7" y1="1333.8" x2="801.2" y2="1333.8" stroke="#000" stroke-width="1" />
<text x="791.8" y="1339.4" font-family="'DejaVu Sans', 'Liberation Sans', sans-serif" font-size="13.2" fill="#000" stroke="#000" stroke-width="0.22" text-anchor="end" >0.0025</text>
<line x1="796.7" y1="1289.06" x2="801.2" y2="1289.06" stroke="#000" stroke-width="1" />
<text x="791.8" y="1294.66" font-family="'DejaVu Sans', 'Liberation Sans', sans-serif" font-size="13.2" fill="#000" stroke="#000" stroke-width="0.22" text-anchor="end" >0.0050</text>
<line x1="796.7" y1="1244.31" x2="801.2" y2="1244.31" stroke="#000" stroke-width="1" />
<text x="791.8" y="1249.91" font-family="'DejaVu Sans', 'Liberation Sans', sans-serif" font-size="13.2" fill="#000" stroke="#000" stroke-width="0.22" text-anchor="end" >0.0075</text>
<line x1="796.7" y1="1199.57" x2="801.2" y2="1199.57" stroke="#000" stroke-width="1" />
<text x="791.8" y="1205.17" font-family="'DejaVu Sans', 'Liberation Sans', sans-serif" font-size="13.2" fill="#000" stroke="#000" stroke-width="0.22" text-anchor="end" >0.0100</text>
<line x1="796.7" y1="1154.83" x2="801.2" y2="1154.83" stroke="#000" stroke-width="1" />
<text x="791.8" y="1160.43" font-family="'DejaVu Sans', 'Liberation Sans', sans-serif" font-size="13.2" fill="#000" stroke="#000" stroke-width="0.22" text-anchor="end" >0.0125</text>
<line x1="796.7" y1="1110.09" x2="801.2" y2="1110.09" stroke="#000" stroke-width="1" />
<text x="791.8" y="1115.69" font-family="'DejaVu Sans', 'Liberation Sans', sans-serif" font-size="13.2" fill="#000" stroke="#000" stroke-width="0.22" text-anchor="end" >0.0150</text>
<line x1="796.7" y1="1065.34" x2="801.2" y2="1065.34" stroke="#000" stroke-width="1" />
<text x="791.8" y="1070.94" font-family="'DejaVu Sans', 'Liberation Sans', sans-serif" font-size="13.2" fill="#000" stroke="#000" stroke-width="0.22" text-anchor="end" >0.0175</text>
<line x1="796.7" y1="1020.6" x2="801.2" y2="1020.6" stroke="#000" stroke-width="1" />
<text x="791.8" y="1026.2" font-family="'DejaVu Sans', 'Liberation Sans', sans-serif" font-size="13.2" fill="#000" stroke="#000" stroke-width="0.22" text-anchor="end" >0.0200</text>
<text x="1035.8" y="999.1" font-family="'DejaVu Sans', 'Liberation Sans', sans-serif" font-size="15.8" fill="#000" stroke="#000" stroke-width="0.22" text-anchor="middle" >Nucleus Classification Training Loss</text>
<text x="1036.1" y="1393.4" font-family="'DejaVu Sans', 'Liberation Sans', sans-serif" font-size="13.2" fill="#000" stroke="#000" stroke-width="0.22" text-anchor="middle" >num_epoches</text>
<polyline points="822.4,1021.67 828.59,1122.43 834.78,1177.56 840.97,1214.07 847.17,1251.47 853.36,1287.8 859.55,1300.69 865.74,1307.85 871.93,1311.25 878.12,1312.86 884.31,1315.9 890.51,1318.23 896.7,1320.02 902.89,1321.81 909.08,1321.81 915.27,1320.74 921.46,1322.17 927.65,1323.78 933.85,1324.67 940.04,1324.85 946.23,1324.85 952.42,1326.64 958.61,1326.64 964.8,1326.64 970.99,1327.36 977.19,1328.07 983.38,1328.25 989.57,1328.97 995.76,1329.86 1001.95,1330.58 1008.14,1331.29 1014.33,1331.65 1020.53,1331.47 1026.72,1331.83 1032.91,1332.19 1039.1,1332.55 1045.29,1332.73 1051.48,1332.91 1057.67,1333.26 1063.87,1333.62 1070.06,1333.98 1076.25,1333.8 1082.44,1334.52 1088.63,1334.87 1094.82,1334.87 1101.01,1335.23 1107.21,1335.59 1113.4,1335.59 1119.59,1335.95 1125.78,1335.77 1131.97,1336.66 1138.16,1336.84 1144.35,1336.84 1150.55,1337.02 1156.74,1337.38 1162.93,1337.38 1169.12,1337.38 1175.31,1337.74 1181.5,1337.74 1187.69,1338.1 1193.89,1338.45 1200.08,1338.45 1206.27,1338.81 1212.46,1338.63 1218.65,1338.81 1224.84,1339.17 1231.03,1339.35 1237.23,1339.71 1243.42,1340.42 1249.61,1340.6" fill="none" stroke="#1f77b4" stroke-width="1.75" stroke-linejoin="round" />
<polyline points="822.4,1068.56 828.59,1155.37 834.78,1197.6 840.97,1235.01 847.17,1281.9 853.36,1303.02 859.55,1313.58 865.74,1318.23 871.93,1320.74 878.12,1322.52 884.31,1324.14 890.51,1324.67 896.7,1324.14 902.89,1325.93 909.08,1327 915.27,1327 921.46,1327.54 927.65,1327.89 933.85,1328.43 940.04,1328.43 946.23,1328.07 952.42,1328.97 958.61,1329.15 964.8,1329.33 970.99,1328.79 977.19,1328.43 983.38,1329.5 989.57,1329.5 995.76,1329.15 1001.95,1329.86 1008.14,1330.76 1014.33,1330.58 1020.53,1330.76 1026.72,1330.94 1032.91,1330.94 1039.1,1330.76 1045.29,1330.4 1051.48,1330.04 1057.67,1330.58 1063.87,1331.12 1070.06,1331.29 1076.25,1330.94 1082.44,1331.47 1088.63,1331.47 1094.82,1331.29 1101.01,1331.29 1107.21,1330.94 1113.4,1331.65 1119.59,1331.65 1125.78,1331.65 1131.97,1331.83 1138.16,1331.47 1144.35,1331.65 1150.55,1331.65 1156.74,1331.29 1162.93,1331.29 1169.12,1331.29 1175.31,1331.47 1181.5,1331.47 1187.69,1331.12 1193.89,1331.29 1200.08,1331.29 1206.27,1328.97 1212.46,1331.29 1218.65,1331.12 1224.84,1331.12 1231.03,1328.97 1237.23,1330.76 1243.42,1330.58 1249.61,1331.12" fill="none" stroke="#ff7f0e" stroke-width="1.75" stroke-linejoin="round" />
<rect x="801.2" y="1006.9" width="469.8" height="349.6" fill="none" stroke="#000" stroke-width="1" />
<rect x="1156.9" y="1013.6" width="107.1" height="41.9" fill="#ffffff" rx="3" stroke="#cccccc" stroke-width="1" fill-opacity="0.8"/>
<line x1="1160.6" y1="1024.2" x2="1189.2" y2="1024.2" stroke="#1f77b4" stroke-width="1.75" />
<text x="1199.4" y="1028.9" font-family="'DejaVu Sans', 'Liberation Sans', sans-serif" font-size="13.2" fill="#000" stroke="#000" stroke-width="0.22" >train loss</text>
<line x1="1160.6" y1="1043.3" x2="1189.2" y2="1043.3" stroke="#ff7f0e" stroke-width="1.75" />
<text x="1199.4" y="1048" font-family="'DejaVu Sans', 'Liberation Sans', sans-serif" font-size="13.2" fill="#000" stroke="#000" stroke-width="0.22" >val loss</text>
<rect x="1296.5" y="989.5" width="531" height="414.1" fill="#ffffff" />
<polyline points="1368.9,1346.2 1803,1038.4" fill="none" stroke="#000" stroke-width="2.2" stroke-linejoin="round" stroke-dasharray="7.7 5.1"/>
<polyline points="1368.9,1346.2 1420.56,1043.79 1585.95,1041.17 1803,1038.4" fill="none" stroke="#ff0000" stroke-width="2.6" stroke-linejoin="round" />
<polyline points="1368.9,1346.2 1398.29,1044.4 1420.99,1044.25 1585.95,1042.4 1803,1038.4" fill="none" stroke="#0000ff" stroke-width="2.6" stroke-linejoin="round" />
<polyline points="1368.9,1346.2 1390.69,1043.32 1420.99,1043.02 1803,1038.4" fill="none" stroke="#008000" stroke-width="2.6" stroke-linejoin="round" />
<rect x="1368.9" y="1023" width="434.1" height="323.2" fill="none" stroke="#444" stroke-width="1.1" />
<line x1="1368.9" y1="1346.2" x2="1368.9" y2="1350.5" stroke="#444" stroke-width="1" />
<line x1="1364.6" y1="1346.2" x2="1368.9" y2="1346.2" stroke="#444" stroke-width="1" />
<text x="1368.9" y="1368.4" font-family="'DejaVu Sans', 'Liberation Sans', sans-serif" font-size="17.9" fill="#000" text-anchor="middle" font-weight="bold" >0.0</text>
<text x="1360.2" y="1352.7" font-family="'DejaVu Sans', 'Liberation Sans', sans-serif" font-size="17.9" fill="#000" text-anchor="end" font-weight="bold" >0.0</text>
<line x1="1455.72" y1="1346.2" x2="1455.72" y2="1350.5" stroke="#444" stroke-width="1" />
<line x1="1364.6" y1="1284.64" x2="1368.9" y2="1284.64" stroke="#444" stroke-width="1" />
<text x="1455.72" y="1368.4" font-family="'DejaVu Sans', 'Liberation Sans', sans-serif" font-size="17.9" fill="#000" text-anchor="middle" font-weight="bold" >0.2</text>
<text x="1360.2" y="1291.14" font-family="'DejaVu Sans', 'Liberation Sans', sans-serif" font-size="17.9" fill="#000" text-anchor="end" font-weight="bold" >0.2</text>
<line x1="1542.54" y1="1346.2" x2="1542.54" y2="1350.5" stroke="#444" stroke-width="1" />
<line x1="1364.6" y1="1223.08" x2="1368.9" y2="1223.08" stroke="#444" stroke-width="1" />
<text x="1542.54" y="1368.4" font-family="'DejaVu Sans', 'Liberation Sans', sans-serif" font-size="17.9" fill="#000" text-anchor="middle" font-weight="bold" >0.4</text>
<text x="1360.2" y="1229.58" font-family="'DejaVu Sans', 'Liberation Sans', sans-serif" font-size="17.9" fill="#000" text-anchor="end" font-weight="bold" >0.4</text>
<line x1="1629.36" y1="1346.2" x2="1629.36" y2="1350.5" stroke="#444" stroke-width="1" />
<line x1="1364.6" y1="1161.52" x2="1368.9" y2="1161.52" stroke="#444" stroke-width="1" />
<text x="1629.36" y="1368.4" font-family="'DejaVu Sans', 'Liberation Sans', sans-serif" font-size="17.9" fill="#000" text-anchor="middle" font-weight="bold" >0.6</text>
<text x="1360.2" y="1168.02" font-family="'DejaVu Sans', 'Liberation Sans', sans-serif" font-size="17.9" fill="#000" text-anchor="end" font-weight="bold" >0.6</text>
<line x1="1716.18" y1="1346.2" x2="1716.18" y2="1350.5" stroke="#444" stroke-width="1" />
<line x1="1364.6" y1="1099.96" x2="1368.9" y2="1099.96" stroke="#444" stroke-width="1" />
<text x="1716.18" y="1368.4" font-family="'DejaVu Sans', 'Liberation Sans', sans-serif" font-size="17.9" fill="#000" text-anchor="middle" font-weight="bold" >0.8</text>
<text x="1360.2" y="1106.46" font-family="'DejaVu Sans', 'Liberation Sans', sans-serif" font-size="17.9" fill="#000" text-anchor="end" font-weight="bold" >0.8</text>
<line x1="1803" y1="1346.2" x2="1803" y2="1350.5" stroke="#444" stroke-width="1" />
<line x1="1364.6" y1="1038.4" x2="1368.9" y2="1038.4" stroke="#444" stroke-width="1" />
<text x="1803" y="1368.4" font-family="'DejaVu Sans', 'Liberation Sans', sans-serif" font-size="17.9" fill="#000" text-anchor="middle" font-weight="bold" >1.0</text>
<text x="1360.2" y="1044.9" font-family="'DejaVu Sans', 'Liberation Sans', sans-serif" font-size="17.9" fill="#000" text-anchor="end" font-weight="bold" >1.0</text>
<text x="1585.8" y="1015.8" font-family="'DejaVu Sans', 'Liberation Sans', sans-serif" font-size="22" fill="#000" text-anchor="middle" font-weight="bold" >ROC curve of Nucleus Classification</text>
<text x="1586.1" y="1390.5" font-family="'DejaVu Sans', 'Liberation Sans', sans-serif" font-size="18.3" fill="#000" text-anchor="middle" font-weight="bold" >False Positive Rate</text>
<text x="1319.5" y="1185" font-family="'DejaVu Sans', 'Liberation Sans', sans-serif" font-size="18.3" fill="#000" text-anchor="middle" font-weight="bold" transform="rotate(-90 1319.5 1185)" >True Positive Rate</text>
<rect x="1592.4" y="1281.9" width="204.1" height="57.5" fill="#ffffff" rx="3" stroke="#d5d5d5" stroke-width="1" fill-opacity="0.8"/>
<line x1="1596.9" y1="1292" x2="1623.6" y2="1292" stroke="#ff0000" stroke-width="2.5" />
<text x="1632.3" y="1296.5" font-family="'DejaVu Sans', 'Liberation Sans', sans-serif" font-size="12.1" fill="#262626" stroke="#262626" stroke-width="0.22" >Vgg16_bn (AUC = 0.9331)</text>
<line x1="1596.9" y1="1310" x2="1623.6" y2="1310" stroke="#0000ff" stroke-width="2.5" />
<text x="1632.3" y="1314.5" font-family="'DejaVu Sans', 'Liberation Sans', sans-serif" font-size="12.1" fill="#262626" stroke="#262626" stroke-width="0.22" >ResNet50 (AUC = 0.9574)</text>
<line x1="1596.9" y1="1328.4" x2="1623.6" y2="1328.4" stroke="#008000" stroke-width="2.5" />
<text x="1632.3" y="1332.9" font-family="'DejaVu Sans', 'Liberation Sans', sans-serif" font-size="12.1" fill="#262626" stroke="#262626" stroke-width="0.22" >PS-ViT (AUC = 0.9666)</text>
</svg>
</body></html>
